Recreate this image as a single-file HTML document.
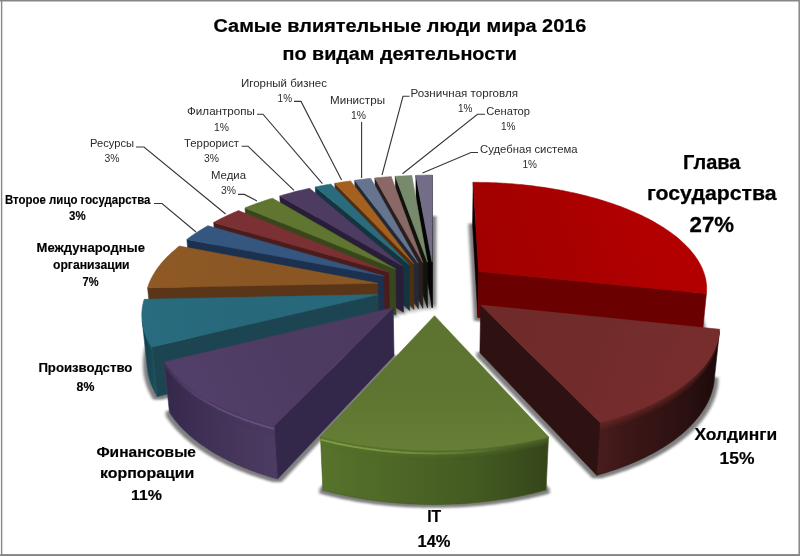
<!DOCTYPE html>
<html><head><meta charset="utf-8"><title>Самые влиятельные люди мира 2016</title>
<style>html,body{margin:0;padding:0;background:#fff}svg{display:block}text{font-family:"Liberation Sans",sans-serif}</style></head><body>
<svg width="800" height="556" viewBox="0 0 800 556">
<rect x="0" y="0" width="800" height="556" fill="#fff"/>
<defs><filter id="blur" x="-10%" y="-10%" width="120%" height="120%"><feMorphology operator="dilate" radius="4 2.4"/><feGaussianBlur stdDeviation="1.7 1.3"/></filter><linearGradient id="t5" gradientUnits="userSpaceOnUse" x1="377.6" y1="283.3" x2="159.2" y2="266.0"><stop offset="0" stop-color="#8A5624"/><stop offset="0.55" stop-color="#8A5624"/><stop offset="1" stop-color="#8E5925"/></linearGradient><linearGradient id="g4wall" gradientUnits="userSpaceOnUse" x1="142.2" y1="0" x2="157.3" y2="0"><stop offset="0" stop-color="#133A45"/><stop offset="1" stop-color="#1E5361"/></linearGradient><linearGradient id="t4" gradientUnits="userSpaceOnUse" x1="377.8" y1="294.6" x2="142.5" y2="323.0"><stop offset="0" stop-color="#27687A"/><stop offset="0.55" stop-color="#27687A"/><stop offset="1" stop-color="#296C7F"/></linearGradient><linearGradient id="h4" gradientUnits="userSpaceOnUse" x1="142.5" y1="0" x2="152.2" y2="0"><stop offset="0.000" stop-color="#3690A8" stop-opacity="0.00"/><stop offset="0.017" stop-color="#3690A8" stop-opacity="0.00"/><stop offset="0.038" stop-color="#3690A8" stop-opacity="0.00"/><stop offset="0.062" stop-color="#3690A8" stop-opacity="0.00"/><stop offset="0.090" stop-color="#3690A8" stop-opacity="0.00"/><stop offset="0.121" stop-color="#3690A8" stop-opacity="0.00"/><stop offset="0.155" stop-color="#3690A8" stop-opacity="0.00"/><stop offset="0.193" stop-color="#3690A8" stop-opacity="0.00"/><stop offset="0.234" stop-color="#3690A8" stop-opacity="0.00"/><stop offset="0.279" stop-color="#3690A8" stop-opacity="0.00"/><stop offset="0.327" stop-color="#3690A8" stop-opacity="0.00"/><stop offset="0.378" stop-color="#3690A8" stop-opacity="0.00"/><stop offset="0.433" stop-color="#3690A8" stop-opacity="0.00"/><stop offset="0.492" stop-color="#3690A8" stop-opacity="0.00"/><stop offset="0.554" stop-color="#3690A8" stop-opacity="0.00"/><stop offset="0.619" stop-color="#3690A8" stop-opacity="0.00"/><stop offset="0.689" stop-color="#3690A8" stop-opacity="0.00"/><stop offset="0.761" stop-color="#3690A8" stop-opacity="0.00"/><stop offset="0.837" stop-color="#3690A8" stop-opacity="0.00"/><stop offset="0.917" stop-color="#3690A8" stop-opacity="0.00"/><stop offset="1.000" stop-color="#3690A8" stop-opacity="0.00"/><stop offset="1.000" stop-color="#3690A8" stop-opacity="0.00"/></linearGradient><linearGradient id="g3wall" gradientUnits="userSpaceOnUse" x1="164.2" y1="0" x2="277.5" y2="0"><stop offset="0" stop-color="#34284A"/><stop offset="0.35" stop-color="#3F3056"/><stop offset="0.7" stop-color="#47375D"/><stop offset="1" stop-color="#4C3B62"/></linearGradient><linearGradient id="t3" gradientUnits="userSpaceOnUse" x1="393.2" y1="307.7" x2="205.1" y2="398.6"><stop offset="0" stop-color="#4C3A61"/><stop offset="0.55" stop-color="#4D3B62"/><stop offset="1" stop-color="#523F69"/></linearGradient><linearGradient id="h3" gradientUnits="userSpaceOnUse" x1="164.5" y1="0" x2="274.3" y2="0"><stop offset="0.000" stop-color="#6A5187" stop-opacity="0.00"/><stop offset="0.034" stop-color="#6A5187" stop-opacity="0.00"/><stop offset="0.073" stop-color="#6A5187" stop-opacity="0.10"/><stop offset="0.118" stop-color="#6A5187" stop-opacity="0.19"/><stop offset="0.167" stop-color="#6A5187" stop-opacity="0.29"/><stop offset="0.222" stop-color="#6A5187" stop-opacity="0.38"/><stop offset="0.282" stop-color="#6A5187" stop-opacity="0.47"/><stop offset="0.347" stop-color="#6A5187" stop-opacity="0.55"/><stop offset="0.416" stop-color="#6A5187" stop-opacity="0.63"/><stop offset="0.490" stop-color="#6A5187" stop-opacity="0.69"/><stop offset="0.569" stop-color="#6A5187" stop-opacity="0.75"/><stop offset="0.652" stop-color="#6A5187" stop-opacity="0.80"/><stop offset="0.740" stop-color="#6A5187" stop-opacity="0.84"/><stop offset="0.831" stop-color="#6A5187" stop-opacity="0.87"/><stop offset="0.926" stop-color="#6A5187" stop-opacity="0.89"/><stop offset="1.000" stop-color="#6A5187" stop-opacity="0.90"/></linearGradient><linearGradient id="t0" gradientUnits="userSpaceOnUse" x1="478.7" y1="271.3" x2="635.5" y2="212.7"><stop offset="0" stop-color="#A10000"/><stop offset="0.55" stop-color="#A80000"/><stop offset="1" stop-color="#B20000"/></linearGradient><linearGradient id="g1wall" gradientUnits="userSpaceOnUse" x1="596.7" y1="0" x2="719.5" y2="0"><stop offset="0" stop-color="#4A1D1D"/><stop offset="0.25" stop-color="#3C1717"/><stop offset="0.75" stop-color="#2A1010"/><stop offset="1" stop-color="#1B0909"/></linearGradient><linearGradient id="t1" gradientUnits="userSpaceOnUse" x1="480.7" y1="305.1" x2="687.5" y2="382.3"><stop offset="0" stop-color="#702A2A"/><stop offset="0.55" stop-color="#722B2B"/><stop offset="1" stop-color="#782D2D"/></linearGradient><linearGradient id="h1" gradientUnits="userSpaceOnUse" x1="600.0" y1="0" x2="719.3" y2="0"><stop offset="0.000" stop-color="#9D3B3B" stop-opacity="0.00"/><stop offset="0.112" stop-color="#9D3B3B" stop-opacity="0.00"/><stop offset="0.219" stop-color="#9D3B3B" stop-opacity="0.00"/><stop offset="0.320" stop-color="#9D3B3B" stop-opacity="0.00"/><stop offset="0.416" stop-color="#9D3B3B" stop-opacity="0.00"/><stop offset="0.504" stop-color="#9D3B3B" stop-opacity="0.00"/><stop offset="0.586" stop-color="#9D3B3B" stop-opacity="0.00"/><stop offset="0.661" stop-color="#9D3B3B" stop-opacity="0.00"/><stop offset="0.728" stop-color="#9D3B3B" stop-opacity="0.00"/><stop offset="0.788" stop-color="#9D3B3B" stop-opacity="0.00"/><stop offset="0.841" stop-color="#9D3B3B" stop-opacity="0.00"/><stop offset="0.886" stop-color="#9D3B3B" stop-opacity="0.00"/><stop offset="0.924" stop-color="#9D3B3B" stop-opacity="0.00"/><stop offset="0.954" stop-color="#9D3B3B" stop-opacity="0.00"/><stop offset="0.977" stop-color="#9D3B3B" stop-opacity="0.00"/><stop offset="0.993" stop-color="#9D3B3B" stop-opacity="0.00"/><stop offset="1.000" stop-color="#9D3B3B" stop-opacity="0.00"/></linearGradient><linearGradient id="g2wall" gradientUnits="userSpaceOnUse" x1="320.5" y1="0" x2="548.5" y2="0"><stop offset="0" stop-color="#57732B"/><stop offset="0.35" stop-color="#4D6626"/><stop offset="0.7" stop-color="#435921"/><stop offset="1" stop-color="#35451A"/></linearGradient><linearGradient id="t2" gradientUnits="userSpaceOnUse" x1="434.5" y1="315.7" x2="434.5" y2="450.7"><stop offset="0" stop-color="#5D7431"/><stop offset="0.55" stop-color="#5E7531"/><stop offset="1" stop-color="#667E35"/></linearGradient><linearGradient id="h2" gradientUnits="userSpaceOnUse" x1="320.6" y1="0" x2="548.4" y2="0"><stop offset="0.000" stop-color="#82A144" stop-opacity="0.90"/><stop offset="0.063" stop-color="#82A144" stop-opacity="0.90"/><stop offset="0.129" stop-color="#82A144" stop-opacity="0.88"/><stop offset="0.197" stop-color="#82A144" stop-opacity="0.84"/><stop offset="0.266" stop-color="#82A144" stop-opacity="0.79"/><stop offset="0.336" stop-color="#82A144" stop-opacity="0.72"/><stop offset="0.407" stop-color="#82A144" stop-opacity="0.64"/><stop offset="0.478" stop-color="#82A144" stop-opacity="0.54"/><stop offset="0.550" stop-color="#82A144" stop-opacity="0.44"/><stop offset="0.622" stop-color="#82A144" stop-opacity="0.33"/><stop offset="0.692" stop-color="#82A144" stop-opacity="0.21"/><stop offset="0.762" stop-color="#82A144" stop-opacity="0.08"/><stop offset="0.831" stop-color="#82A144" stop-opacity="0.00"/><stop offset="0.897" stop-color="#82A144" stop-opacity="0.00"/><stop offset="0.962" stop-color="#82A144" stop-opacity="0.00"/><stop offset="1.000" stop-color="#82A144" stop-opacity="0.00"/></linearGradient></defs>
<g filter="url(#blur)" fill="#000" opacity="0.5" transform="translate(0,1.3)"><polygon points="432.2,307.7 416.2,216.9 418.2,216.9 420.3,216.8 422.3,216.7 424.3,216.7 426.3,216.7 428.4,216.6 430.4,216.6 432.4,216.6"/><polygon points="427.5,307.9 395.9,217.9 397.9,217.8 399.9,217.7 402.0,217.5 404.0,217.4 406.0,217.3 408.0,217.2 410.1,217.1 412.1,217.1"/><polygon points="422.9,308.3 375.8,219.7 377.8,219.5 379.8,219.2 381.8,219.1 383.8,218.9 385.8,218.7 387.8,218.5 389.8,218.4 391.8,218.2"/><polygon points="418.4,308.8 355.9,222.1 357.8,221.8 359.8,221.6 361.8,221.3 363.8,221.0 365.8,220.8 367.7,220.6 369.7,220.3 371.7,220.1"/><polygon points="413.9,309.6 336.3,225.3 338.2,224.9 340.1,224.6 342.1,224.2 344.0,223.9 346.0,223.6 348.0,223.3 349.9,223.0 351.9,222.7"/><polygon points="409.6,310.5 317.1,229.2 319.0,228.7 320.9,228.3 322.8,227.9 324.7,227.5 326.6,227.1 328.5,226.8 330.4,226.4 332.4,226.0"/><polygon points="403.5,312.2 282.2,238.5 284.0,237.9 285.9,237.4 287.8,236.8 289.8,236.2 291.7,235.6 293.6,235.1 295.6,234.5 297.5,234.0 299.5,233.5 301.5,233.0 303.4,232.5 305.4,232.0 307.4,231.5 309.4,231.0 311.4,230.5"/><polygon points="396.0,315.0 248.0,251.1 249.7,250.4 251.4,249.6 253.1,248.9 254.9,248.2 256.7,247.4 258.5,246.7 260.2,246.1 262.1,245.4 263.9,244.7 265.7,244.0 267.5,243.4 269.4,242.7 271.3,242.1 273.1,241.5 275.0,240.9"/><polygon points="389.6,318.4 217.3,266.4 218.8,265.5 220.3,264.6 221.8,263.7 223.4,262.9 224.9,262.0 226.5,261.2 228.1,260.3 229.7,259.5 231.4,258.7 233.0,257.9 234.7,257.1 236.4,256.3 238.0,255.5 239.7,254.7 241.5,254.0"/><polygon points="384.4,322.3 190.9,284.2 192.2,283.2 193.4,282.2 194.7,281.2 196.0,280.2 197.3,279.2 198.7,278.2 200.0,277.2 201.4,276.3 202.8,275.3 204.2,274.4 205.7,273.4 207.1,272.5 208.6,271.6 210.1,270.7 211.6,269.8"/><polygon points="378.6,330.1 152.6,334.8 153.0,333.5 153.4,332.2 153.8,331.0 154.3,329.7 154.8,328.4 155.3,327.2 155.8,325.9 156.4,324.7 156.9,323.4 157.6,322.2 158.2,321.0 158.9,319.8 159.6,318.5 160.3,317.3 161.0,316.1 161.8,314.9 162.6,313.7 163.4,312.5 164.3,311.3 165.2,310.2 166.1,309.0 167.0,307.8 167.9,306.7 168.9,305.5 169.9,304.4 170.9,303.2 172.0,302.1 173.0,301.0 174.1,299.8 175.2,298.7 176.4,297.6 177.5,296.5 178.7,295.4 179.9,294.4 181.1,293.3 182.3,292.2 183.6,291.2"/><polygon points="378.8,341.9 157.3,396.5 156.5,395.1 155.7,393.8 155.0,392.5 154.3,391.1 153.6,389.8 153.0,388.5 152.4,387.1 151.8,385.8 151.2,384.4 150.7,383.1 150.3,381.7 149.8,380.4 149.4,379.0 149.1,377.7 148.7,376.3 148.4,374.9 148.2,373.6 147.9,372.2 147.7,370.9 147.5,369.5 147.4,368.2 147.3,366.8 147.2,365.5 147.1,364.1 147.1,362.8 147.1,361.4 147.2,360.1 147.3,358.7 147.4,357.4 147.5,356.1 147.7,354.7 147.9,353.4 148.1,352.1 148.4,350.7 148.7,349.4 149.0,348.1 149.3,346.8"/><polygon points="394.0,355.6 277.5,479.0 274.8,478.2 272.1,477.4 269.5,476.7 266.9,475.8 264.3,475.0 261.8,474.2 259.3,473.3 256.8,472.5 254.3,471.6 251.8,470.7 249.4,469.8 247.0,468.8 244.6,467.9 242.3,466.9 240.0,466.0 237.7,465.0 235.4,464.0 233.2,462.9 231.0,461.9 228.8,460.9 226.7,459.8 224.6,458.7 222.5,457.7 220.4,456.6 218.4,455.4 216.4,454.3 214.5,453.2 212.5,452.0 210.6,450.9 208.8,449.7 207.0,448.5 205.2,447.3 203.4,446.1 201.7,444.9 200.0,443.7 198.3,442.5 196.7,441.2 195.1,440.0 193.5,438.7 192.0,437.5 190.5,436.2 189.0,434.9 187.6,433.6 186.2,432.3 184.8,431.0 183.5,429.7 182.2,428.4 180.9,427.1 179.7,425.7 178.5,424.4 177.4,423.1 176.3,421.7 175.2,420.4 174.1,419.0 173.1,417.6 172.1,416.3 171.2,414.9 170.3,413.5 169.4,412.1"/><polygon points="477.9,317.5 472.6,224.2 474.8,224.2 477.1,224.2 479.3,224.3 481.6,224.3 483.8,224.4 486.0,224.4 488.3,224.5 490.5,224.6 492.8,224.7 495.0,224.8 497.3,224.9 499.5,225.0 501.7,225.1 504.0,225.3 506.2,225.4 508.4,225.6 510.7,225.8 512.9,226.0 515.1,226.2 517.3,226.4 519.5,226.6 521.8,226.9 524.0,227.1 526.2,227.4 528.4,227.6 530.6,227.9 532.8,228.2 534.9,228.5 537.1,228.8 539.3,229.1 541.5,229.5 543.7,229.8 545.8,230.2 548.0,230.5 550.1,230.9 552.3,231.3 554.4,231.7 556.5,232.1 558.7,232.5 560.8,233.0 562.9,233.4 565.0,233.8 567.1,234.3 569.2,234.8 571.3,235.3 573.3,235.8 575.4,236.3 577.4,236.8 579.5,237.3 581.5,237.8 583.6,238.4 585.6,238.9 587.6,239.5 589.6,240.1 591.6,240.7 593.6,241.3 595.5,241.9 597.5,242.5 599.4,243.1 601.4,243.7 603.3,244.4 605.2,245.1 607.1,245.7 609.0,246.4 610.9,247.1 612.7,247.8 614.6,248.5 616.4,249.2 618.2,249.9 620.1,250.7 621.9,251.4 623.6,252.2 625.4,252.9 627.2,253.7 628.9,254.5 630.6,255.3 632.4,256.1 634.1,256.9 635.7,257.7 637.4,258.6 639.1,259.4 640.7,260.3 642.3,261.1 643.9,262.0 645.5,262.9 647.1,263.8 648.6,264.7 650.2,265.6 651.7,266.5 653.2,267.4 654.7,268.3 656.1,269.3 657.6,270.2 659.0,271.2 660.4,272.2 661.8,273.1 663.1,274.1 664.5,275.1 665.8,276.1 667.1,277.1 668.4,278.1 669.7,279.2 670.9,280.2 672.2,281.2 673.4,282.3 674.5,283.3 675.7,284.4 676.8,285.5 678.0,286.5 679.1,287.6 680.1,288.7 681.2,289.8 682.2,290.9 683.2,292.0 684.2,293.1 685.1,294.3 686.1,295.4 687.0,296.5 687.9,297.7 688.7,298.8 689.5,300.0 690.3,301.1 691.1,302.3 691.9,303.5 692.6,304.6 693.3,305.8 694.0,307.0 694.6,308.2 695.3,309.4 695.9,310.6 696.4,311.8 697.0,313.0 697.5,314.3 698.0,315.5 698.4,316.7 698.9,317.9 699.3,319.2 699.7,320.4 700.0,321.7 700.3,322.9 700.6,324.1 700.9,325.4 701.1,326.7 701.3,327.9 701.5,329.2 701.6,330.4 701.7,331.7 701.8,333.0 701.9,334.2 701.9,335.5 701.9,336.8 701.8,338.1 701.8,339.3 701.6,340.6"/><polygon points="479.9,352.8 714.4,378.2 714.3,379.6 714.2,381.0 714.0,382.4 713.8,383.8 713.5,385.2 713.2,386.6 712.9,388.0 712.6,389.4 712.2,390.8 711.8,392.2 711.3,393.6 710.8,395.0 710.3,396.4 709.7,397.8 709.2,399.2 708.5,400.5 707.9,401.9 707.2,403.3 706.5,404.7 705.7,406.1 704.9,407.5 704.1,408.8 703.2,410.2 702.3,411.6 701.4,412.9 700.4,414.3 699.4,415.7 698.4,417.0 697.3,418.4 696.2,419.7 695.0,421.0 693.9,422.4 692.7,423.7 691.4,425.0 690.1,426.3 688.8,427.6 687.5,428.9 686.1,430.2 684.7,431.5 683.2,432.8 681.7,434.0 680.2,435.3 678.7,436.5 677.1,437.8 675.5,439.0 673.8,440.2 672.1,441.5 670.4,442.7 668.6,443.8 666.9,445.0 665.0,446.2 663.2,447.4 661.3,448.5 659.4,449.7 657.5,450.8 655.5,451.9 653.5,453.0 651.4,454.1 649.4,455.2 647.3,456.2 645.1,457.3 643.0,458.3 640.8,459.4 638.6,460.4 636.3,461.4 634.0,462.4 631.7,463.3 629.4,464.3 627.0,465.2 624.7,466.1 622.2,467.1 619.8,468.0 617.3,468.8 614.8,469.7 612.3,470.5 609.8,471.4 607.2,472.2 604.6,473.0 602.0,473.8 599.4,474.5 596.7,475.3"/><polygon points="434.5,363.9 546.1,490.1 543.3,490.8 540.5,491.6 537.6,492.3 534.8,493.0 531.9,493.7 529.0,494.3 526.1,495.0 523.2,495.6 520.2,496.2 517.3,496.8 514.3,497.3 511.3,497.9 508.3,498.4 505.2,498.9 502.2,499.4 499.2,499.8 496.1,500.3 493.0,500.7 489.9,501.1 486.8,501.5 483.7,501.8 480.6,502.1 477.4,502.5 474.3,502.7 471.1,503.0 468.0,503.3 464.8,503.5 461.6,503.7 458.4,503.9 455.3,504.0 452.1,504.1 448.9,504.3 445.7,504.3 442.5,504.4 439.3,504.5 436.1,504.5 432.9,504.5 429.7,504.5 426.5,504.4 423.3,504.3 420.1,504.3 416.9,504.1 413.7,504.0 410.6,503.9 407.4,503.7 404.2,503.5 401.0,503.3 397.9,503.0 394.7,502.7 391.6,502.5 388.4,502.1 385.3,501.8 382.2,501.5 379.1,501.1 376.0,500.7 372.9,500.3 369.8,499.8 366.8,499.4 363.8,498.9 360.7,498.4 357.7,497.9 354.7,497.3 351.7,496.8 348.8,496.2 345.8,495.6 342.9,495.0 340.0,494.3 337.1,493.7 334.2,493.0 331.4,492.3 328.5,491.6 325.7,490.8 322.9,490.1"/></g>
<polygon points="432.1,261.9 415.9,175.4 416.2,216.9 432.2,307.7" fill="#050505" stroke="#050505" stroke-width="0.6" stroke-linejoin="round"/>
<polygon points="432.1,261.9 432.4,175.1 432.4,216.6 432.2,307.7" fill="#050505" stroke="#050505" stroke-width="0.6" stroke-linejoin="round"/>
<polygon points="432.1,261.9 415.9,175.4 418.0,175.3 420.0,175.3 422.1,175.2 424.2,175.2 426.2,175.1 428.3,175.1 430.4,175.1 432.4,175.1" fill="#746D88" stroke="#746D88" stroke-width="0.6" stroke-linejoin="round"/>
<polygon points="427.4,262.1 395.3,176.3 395.9,217.9 427.5,307.9" fill="#10140C" stroke="#10140C" stroke-width="0.6" stroke-linejoin="round"/>
<polygon points="427.4,262.1 395.3,176.3 397.4,176.2 399.4,176.1 401.5,176.0 403.5,175.9 405.6,175.8 407.6,175.7 409.7,175.6 411.8,175.5" fill="#788A6C" stroke="#788A6C" stroke-width="0.6" stroke-linejoin="round"/>
<polygon points="422.7,262.4 374.9,178.0 375.8,219.7 422.9,308.3" fill="#2A1F1F" stroke="#2A1F1F" stroke-width="0.6" stroke-linejoin="round"/>
<polygon points="422.7,262.4 374.9,178.0 376.9,177.8 378.9,177.6 381.0,177.4 383.0,177.2 385.0,177.1 387.1,176.9 389.1,176.8 391.2,176.6" fill="#8A6866" stroke="#8A6866" stroke-width="0.6" stroke-linejoin="round"/>
<polygon points="418.1,263.0 354.7,180.3 355.9,222.1 418.4,308.8" fill="#232A36" stroke="#232A36" stroke-width="0.6" stroke-linejoin="round"/>
<polygon points="418.1,263.0 354.7,180.3 356.7,180.0 358.7,179.8 360.7,179.5 362.7,179.3 364.7,179.1 366.7,178.8 368.8,178.6 370.8,178.4" fill="#66758F" stroke="#66758F" stroke-width="0.6" stroke-linejoin="round"/>
<polygon points="413.6,263.7 334.8,183.3 336.3,225.3 413.9,309.6" fill="#4f2f14" stroke="#4f2f14" stroke-width="0.6" stroke-linejoin="round"/>
<polygon points="413.6,263.7 334.8,183.3 336.7,183.0 338.7,182.7 340.7,182.3 342.7,182.0 344.6,181.7 346.6,181.4 348.6,181.2 350.6,180.9" fill="#A5601F" stroke="#A5601F" stroke-width="0.6" stroke-linejoin="round"/>
<polygon points="409.2,264.6 315.3,187.0 317.1,229.2 409.6,310.5" fill="#14353F" stroke="#14353F" stroke-width="0.6" stroke-linejoin="round"/>
<polygon points="409.2,264.6 315.3,187.0 317.2,186.6 319.1,186.2 321.1,185.8 323.0,185.5 324.9,185.1 326.9,184.7 328.9,184.4 330.8,184.0" fill="#2A6C7E" stroke="#2A6C7E" stroke-width="0.6" stroke-linejoin="round"/>
<polygon points="402.9,266.2 279.8,196.0 282.2,238.5 403.5,312.2" fill="#281E38" stroke="#281E38" stroke-width="0.6" stroke-linejoin="round"/>
<polygon points="402.9,266.2 279.8,196.0 281.7,195.4 283.6,194.8 285.6,194.3 287.5,193.7 289.5,193.2 291.4,192.7 293.4,192.1 295.4,191.6 297.4,191.1 299.4,190.6 301.4,190.2 303.4,189.7 305.5,189.2 307.5,188.8 309.5,188.3" fill="#4D3B62" stroke="#4D3B62" stroke-width="0.6" stroke-linejoin="round"/>
<polygon points="395.4,268.9 245.0,207.9 248.0,251.1 396.0,315.0" fill="#38461C" stroke="#38461C" stroke-width="0.6" stroke-linejoin="round"/>
<polygon points="395.4,268.9 245.0,207.9 246.7,207.2 248.5,206.5 250.3,205.8 252.1,205.1 253.9,204.4 255.7,203.8 257.5,203.1 259.3,202.5 261.2,201.8 263.1,201.2 264.9,200.6 266.8,199.9 268.7,199.3 270.6,198.7 272.5,198.2" fill="#5F7530" stroke="#5F7530" stroke-width="0.6" stroke-linejoin="round"/>
<polygon points="388.8,272.2 213.7,222.5 217.3,266.4 389.6,318.4" fill="#4A1C1D" stroke="#4A1C1D" stroke-width="0.6" stroke-linejoin="round"/>
<polygon points="388.8,272.2 213.7,222.5 215.3,221.6 216.8,220.8 218.4,219.9 220.0,219.1 221.6,218.3 223.2,217.5 224.8,216.7 226.4,215.9 228.1,215.1 229.8,214.4 231.5,213.6 233.2,212.8 234.9,212.1 236.6,211.4 238.4,210.6" fill="#7B3133" stroke="#7B3133" stroke-width="0.6" stroke-linejoin="round"/>
<polygon points="383.5,275.9 186.9,239.5 190.9,284.2 384.4,322.3" fill="#1C3150" stroke="#1C3150" stroke-width="0.6" stroke-linejoin="round"/>
<polygon points="383.5,275.9 186.9,239.5 188.1,238.5 189.4,237.5 190.7,236.6 192.1,235.6 193.4,234.7 194.8,233.7 196.2,232.8 197.6,231.9 199.0,231.0 200.5,230.1 201.9,229.2 203.4,228.3 204.9,227.4 206.4,226.6 207.9,225.7" fill="#34567F" stroke="#34567F" stroke-width="0.6" stroke-linejoin="round"/>
<polygon points="377.6,283.3 147.6,287.8 152.6,334.8 378.6,330.1" fill="#5A3517" stroke="#5A3517" stroke-width="0.6" stroke-linejoin="round"/>
<polygon points="377.6,283.3 147.6,287.8 148.0,286.6 148.4,285.3 148.8,284.1 149.3,282.9 149.8,281.7 150.3,280.5 150.9,279.3 151.5,278.1 152.1,277.0 152.7,275.8 153.4,274.6 154.1,273.4 154.8,272.3 155.5,271.1 156.3,270.0 157.1,268.8 157.9,267.7 158.7,266.5 159.6,265.4 160.5,264.3 161.4,263.1 162.4,262.0 163.4,260.9 164.4,259.8 165.4,258.7 166.4,257.6 167.5,256.6 168.6,255.5 169.7,254.4 170.8,253.3 172.0,252.3 173.2,251.2 174.4,250.2 175.6,249.2 176.8,248.1 178.1,247.1 179.4,246.1" fill="url(#t5)" stroke="#8A5624" stroke-width="0.6" stroke-linejoin="round"/>
<polygon points="377.8,294.6 151.9,346.9 157.3,396.5 378.8,341.9" fill="#1C4551" stroke="#1C4551" stroke-width="0.6" stroke-linejoin="round"/>
<polygon points="151.9,346.9 151.1,345.6 150.3,344.3 149.6,343.0 148.9,341.8 148.2,340.5 147.6,339.2 147.0,337.9 146.4,336.6 145.9,335.3 145.4,334.0 144.9,332.7 144.5,331.4 144.1,330.1 143.7,328.8 143.4,327.5 143.1,326.2 142.8,324.9 142.6,323.6 142.4,322.3 142.2,321.0 147.5,369.5 147.7,370.9 147.9,372.2 148.2,373.6 148.4,374.9 148.7,376.3 149.1,377.6 149.4,379.0 149.8,380.3 150.3,381.7 150.7,383.1 151.2,384.4 151.8,385.8 152.4,387.1 153.0,388.4 153.6,389.8 154.3,391.1 155.0,392.5 155.7,393.8 156.5,395.1 157.3,396.5" fill="url(#g4wall)" stroke="#1E5361" stroke-width="0.6" stroke-linejoin="round"/>
<polygon points="377.8,294.6 151.9,346.9 151.1,345.6 150.3,344.3 149.6,343.0 148.9,341.8 148.2,340.5 147.6,339.2 147.0,337.9 146.4,336.6 145.9,335.3 145.4,334.0 144.9,332.7 144.5,331.4 144.1,330.1 143.7,328.8 143.4,327.5 143.1,326.2 142.8,324.9 142.6,323.6 142.4,322.3 142.2,321.0 142.0,319.7 141.9,318.5 141.9,317.2 141.8,315.9 141.8,314.6 141.8,313.3 141.9,312.0 142.0,310.7 142.1,309.4 142.3,308.1 142.4,306.9 142.7,305.6 142.9,304.3 143.2,303.1 143.5,301.8 143.8,300.5 144.2,299.3" fill="url(#t4)" stroke="#27687A" stroke-width="0.6" stroke-linejoin="round"/>
<polygon points="151.9,346.9 151.1,345.6 150.3,344.3 149.6,343.0 148.9,341.8 148.2,340.5 147.6,339.2 147.0,337.9 146.4,336.6 145.9,335.3 145.4,334.0 144.9,332.7 144.5,331.4 144.1,330.1 143.7,328.8 143.4,327.5 143.1,326.2 142.8,324.9 142.6,323.6 142.4,322.3 142.2,321.0 142.3,321.9 142.5,323.2 142.7,324.5 142.9,325.8 143.2,327.1 143.5,328.4 143.8,329.7 144.2,331.0 144.6,332.3 145.0,333.6 145.5,334.9 146.0,336.2 146.5,337.5 147.1,338.8 147.7,340.1 148.3,341.4 149.0,342.7 149.7,343.9 150.4,345.2 151.2,346.5 152.0,347.8" fill="#27687A" opacity="0.80"/>
<polygon points="152.0,347.8 151.2,346.5 150.4,345.2 149.7,343.9 149.0,342.7 148.3,341.4 147.7,340.1 147.1,338.8 146.5,337.5 146.0,336.2 145.5,334.9 145.0,333.6 144.6,332.3 144.2,331.0 143.8,329.7 143.5,328.4 143.2,327.1 142.9,325.8 142.7,324.5 142.5,323.2 142.3,321.9 142.4,322.8 142.5,324.1 142.8,325.4 143.0,326.7 143.3,328.0 143.6,329.3 143.9,330.6 144.3,331.9 144.7,333.2 145.1,334.5 145.6,335.8 146.1,337.1 146.6,338.4 147.2,339.7 147.8,341.0 148.4,342.3 149.1,343.6 149.8,344.9 150.5,346.1 151.3,347.4 152.1,348.7" fill="#27687A" opacity="0.69"/>
<polygon points="152.1,348.7 151.3,347.4 150.5,346.1 149.8,344.9 149.1,343.6 148.4,342.3 147.8,341.0 147.2,339.7 146.6,338.4 146.1,337.1 145.6,335.8 145.1,334.5 144.7,333.2 144.3,331.9 143.9,330.6 143.6,329.3 143.3,328.0 143.0,326.7 142.8,325.4 142.5,324.1 142.4,322.8 142.5,323.7 142.6,325.0 142.8,326.3 143.1,327.6 143.4,328.9 143.7,330.2 144.0,331.5 144.4,332.8 144.8,334.1 145.2,335.4 145.7,336.7 146.2,338.0 146.7,339.3 147.3,340.6 147.9,341.9 148.5,343.2 149.2,344.5 149.9,345.8 150.6,347.0 151.4,348.3 152.2,349.6" fill="#27687A" opacity="0.58"/>
<polygon points="152.2,349.6 151.4,348.3 150.6,347.0 149.9,345.8 149.2,344.5 148.5,343.2 147.9,341.9 147.3,340.6 146.7,339.3 146.2,338.0 145.7,336.7 145.2,335.4 144.8,334.1 144.4,332.8 144.0,331.5 143.7,330.2 143.4,328.9 143.1,327.6 142.8,326.3 142.6,325.0 142.5,323.7 142.6,324.6 142.7,325.9 142.9,327.2 143.2,328.5 143.5,329.8 143.8,331.1 144.1,332.4 144.5,333.7 144.9,335.0 145.3,336.3 145.8,337.6 146.3,338.9 146.8,340.2 147.4,341.5 148.0,342.8 148.6,344.1 149.3,345.4 150.0,346.7 150.7,347.9 151.5,349.2 152.3,350.5" fill="#27687A" opacity="0.49"/>
<polygon points="152.3,350.5 151.5,349.2 150.7,347.9 150.0,346.7 149.3,345.4 148.6,344.1 148.0,342.8 147.4,341.5 146.8,340.2 146.3,338.9 145.8,337.6 145.3,336.3 144.9,335.0 144.5,333.7 144.1,332.4 143.8,331.1 143.5,329.8 143.2,328.5 142.9,327.2 142.7,325.9 142.6,324.6 142.7,325.5 142.8,326.8 143.0,328.1 143.3,329.4 143.5,330.7 143.9,332.0 144.2,333.3 144.6,334.6 145.0,335.9 145.4,337.2 145.9,338.5 146.4,339.8 146.9,341.1 147.5,342.4 148.1,343.7 148.7,345.0 149.4,346.3 150.1,347.6 150.8,348.9 151.6,350.1 152.4,351.4" fill="#27687A" opacity="0.39"/>
<polygon points="152.4,351.4 151.6,350.1 150.8,348.9 150.1,347.6 149.4,346.3 148.7,345.0 148.1,343.7 147.5,342.4 146.9,341.1 146.4,339.8 145.9,338.5 145.4,337.2 145.0,335.9 144.6,334.6 144.2,333.3 143.9,332.0 143.5,330.7 143.3,329.4 143.0,328.1 142.8,326.8 142.7,325.5 142.8,326.4 142.9,327.7 143.1,329.0 143.4,330.3 143.6,331.6 143.9,332.9 144.3,334.2 144.7,335.5 145.1,336.8 145.5,338.1 146.0,339.4 146.5,340.7 147.0,342.0 147.6,343.3 148.2,344.6 148.8,345.9 149.5,347.2 150.2,348.5 150.9,349.8 151.7,351.0 152.5,352.3" fill="#27687A" opacity="0.30"/>
<polygon points="152.5,352.3 151.7,351.0 150.9,349.8 150.2,348.5 149.5,347.2 148.8,345.9 148.2,344.6 147.6,343.3 147.0,342.0 146.5,340.7 146.0,339.4 145.5,338.1 145.1,336.8 144.7,335.5 144.3,334.2 143.9,332.9 143.6,331.6 143.4,330.3 143.1,329.0 142.9,327.7 142.8,326.4 142.9,327.2 143.0,328.5 143.2,329.8 143.5,331.2 143.7,332.5 144.0,333.8 144.4,335.1 144.7,336.4 145.2,337.7 145.6,339.0 146.1,340.3 146.6,341.6 147.1,342.9 147.7,344.2 148.3,345.5 148.9,346.8 149.6,348.1 150.3,349.4 151.0,350.7 151.8,351.9 152.6,353.2" fill="#27687A" opacity="0.22"/>
<polygon points="152.6,353.2 151.8,351.9 151.0,350.7 150.3,349.4 149.6,348.1 148.9,346.8 148.3,345.5 147.7,344.2 147.1,342.9 146.6,341.6 146.1,340.3 145.6,339.0 145.2,337.7 144.7,336.4 144.4,335.1 144.0,333.8 143.7,332.5 143.5,331.2 143.2,329.8 143.0,328.5 142.9,327.2 143.0,328.1 143.1,329.4 143.3,330.7 143.6,332.0 143.8,333.4 144.1,334.7 144.5,336.0 144.8,337.3 145.2,338.6 145.7,339.9 146.2,341.2 146.7,342.5 147.2,343.8 147.8,345.1 148.4,346.4 149.0,347.7 149.7,349.0 150.4,350.3 151.1,351.6 151.9,352.9 152.7,354.1" fill="#27687A" opacity="0.14"/>
<polygon points="152.7,354.1 151.9,352.9 151.1,351.6 150.4,350.3 149.7,349.0 149.0,347.7 148.4,346.4 147.8,345.1 147.2,343.8 146.7,342.5 146.2,341.2 145.7,339.9 145.2,338.6 144.8,337.3 144.5,336.0 144.1,334.7 143.8,333.4 143.6,332.0 143.3,330.7 143.1,329.4 143.0,328.1 143.1,329.0 143.2,330.3 143.4,331.6 143.7,332.9 143.9,334.2 144.2,335.5 144.6,336.9 144.9,338.2 145.3,339.5 145.8,340.8 146.3,342.1 146.8,343.4 147.3,344.7 147.9,346.0 148.5,347.3 149.1,348.6 149.8,349.9 150.5,351.2 151.2,352.5 152.0,353.8 152.8,355.0" fill="#27687A" opacity="0.07"/>
<polygon points="152.8,355.0 152.0,353.8 151.2,352.5 150.5,351.2 149.8,349.9 149.1,348.6 148.5,347.3 147.9,346.0 147.3,344.7 146.8,343.4 146.3,342.1 145.8,340.8 145.3,339.5 144.9,338.2 144.6,336.9 144.2,335.5 143.9,334.2 143.7,332.9 143.4,331.6 143.2,330.3 143.1,329.0 143.2,329.9 143.3,331.2 143.5,332.5 143.8,333.8 144.0,335.1 144.3,336.4 144.7,337.7 145.0,339.1 145.4,340.4 145.9,341.7 146.4,343.0 146.9,344.3 147.4,345.6 148.0,346.9 148.6,348.2 149.2,349.5 149.9,350.8 150.6,352.1 151.3,353.4 152.1,354.7 152.9,355.9" fill="#27687A" opacity="0.02"/>
<polyline points="152.2,349.4 151.4,348.1 150.6,346.8 149.9,345.6 149.2,344.3 148.5,343.0 147.9,341.7 147.3,340.4 146.7,339.1 146.1,337.8 145.6,336.5 145.2,335.2 144.7,333.9 144.3,332.6 144.0,331.3 143.6,330.0 143.3,328.7 143.1,327.4 142.8,326.1 142.6,324.8 142.5,323.5" fill="none" stroke="url(#h4)" stroke-width="1.9"/>
<polygon points="393.2,307.7 274.1,426.1 277.5,479.0 394.0,355.6" fill="#33274A" stroke="#33274A" stroke-width="0.6" stroke-linejoin="round"/>
<polygon points="274.1,426.1 271.4,425.4 268.7,424.7 266.0,423.9 263.4,423.1 260.7,422.4 258.1,421.6 255.6,420.7 253.0,419.9 250.5,419.0 248.0,418.2 245.5,417.3 243.1,416.4 240.7,415.5 238.3,414.6 235.9,413.6 233.6,412.7 231.3,411.7 229.0,410.7 226.8,409.7 224.5,408.7 222.4,407.7 220.2,406.7 218.1,405.6 216.0,404.6 214.0,403.5 211.9,402.4 209.9,401.3 208.0,400.2 206.0,399.1 204.2,398.0 202.3,396.9 200.5,395.7 198.7,394.6 196.9,393.4 195.2,392.2 193.5,391.1 191.8,389.9 190.2,388.7 188.6,387.5 187.1,386.2 185.5,385.0 184.1,383.8 182.6,382.5 181.2,381.3 179.8,380.0 178.5,378.8 177.2,377.5 175.9,376.2 174.6,375.0 173.4,373.7 172.3,372.4 171.1,371.1 170.0,369.8 169.0,368.5 168.0,367.2 167.0,365.9 166.0,364.6 165.1,363.2 164.2,361.9 169.4,412.1 170.3,413.5 171.2,414.9 172.1,416.3 173.1,417.6 174.1,419.0 175.2,420.4 176.3,421.7 177.4,423.1 178.5,424.4 179.7,425.7 180.9,427.1 182.2,428.4 183.5,429.7 184.8,431.0 186.2,432.3 187.6,433.6 189.0,434.9 190.5,436.2 192.0,437.5 193.5,438.7 195.1,440.0 196.7,441.2 198.3,442.5 200.0,443.7 201.7,444.9 203.4,446.1 205.2,447.3 207.0,448.5 208.8,449.7 210.6,450.9 212.5,452.0 214.5,453.2 216.4,454.3 218.4,455.4 220.4,456.6 222.5,457.7 224.6,458.7 226.7,459.8 228.8,460.9 231.0,461.9 233.2,462.9 235.4,464.0 237.7,465.0 240.0,466.0 242.3,466.9 244.6,467.9 247.0,468.8 249.4,469.8 251.8,470.7 254.3,471.6 256.8,472.5 259.3,473.3 261.8,474.2 264.3,475.0 266.9,475.8 269.5,476.7 272.1,477.4 274.8,478.2 277.5,479.0" fill="url(#g3wall)" stroke="#47375D" stroke-width="0.6" stroke-linejoin="round"/>
<polygon points="393.2,307.7 274.1,426.1 271.4,425.4 268.7,424.7 266.0,423.9 263.4,423.1 260.7,422.4 258.1,421.6 255.6,420.7 253.0,419.9 250.5,419.0 248.0,418.2 245.5,417.3 243.1,416.4 240.7,415.5 238.3,414.6 235.9,413.6 233.6,412.7 231.3,411.7 229.0,410.7 226.8,409.7 224.5,408.7 222.4,407.7 220.2,406.7 218.1,405.6 216.0,404.6 214.0,403.5 211.9,402.4 209.9,401.3 208.0,400.2 206.0,399.1 204.2,398.0 202.3,396.9 200.5,395.7 198.7,394.6 196.9,393.4 195.2,392.2 193.5,391.1 191.8,389.9 190.2,388.7 188.6,387.5 187.1,386.2 185.5,385.0 184.1,383.8 182.6,382.5 181.2,381.3 179.8,380.0 178.5,378.8 177.2,377.5 175.9,376.2 174.6,375.0 173.4,373.7 172.3,372.4 171.1,371.1 170.0,369.8 169.0,368.5 168.0,367.2 167.0,365.9 166.0,364.6 165.1,363.2 164.2,361.9" fill="url(#t3)" stroke="#4D3B62" stroke-width="0.6" stroke-linejoin="round"/>
<polygon points="274.1,426.1 271.4,425.4 268.7,424.7 266.0,423.9 263.4,423.1 260.7,422.4 258.1,421.6 255.6,420.7 253.0,419.9 250.5,419.0 248.0,418.2 245.5,417.3 243.1,416.4 240.7,415.5 238.3,414.6 235.9,413.6 233.6,412.7 231.3,411.7 229.0,410.7 226.8,409.7 224.5,408.7 222.4,407.7 220.2,406.7 218.1,405.6 216.0,404.6 214.0,403.5 211.9,402.4 209.9,401.3 208.0,400.2 206.0,399.1 204.2,398.0 202.3,396.9 200.5,395.7 198.7,394.6 196.9,393.4 195.2,392.2 193.5,391.1 191.8,389.9 190.2,388.7 188.6,387.5 187.1,386.2 185.5,385.0 184.1,383.8 182.6,382.5 181.2,381.3 179.8,380.0 178.5,378.8 177.2,377.5 175.9,376.2 174.6,375.0 173.4,373.7 172.3,372.4 171.1,371.1 170.0,369.8 169.0,368.5 168.0,367.2 167.0,365.9 166.0,364.6 165.1,363.2 164.2,361.9 164.3,362.8 165.2,364.2 166.1,365.5 167.1,366.8 168.0,368.1 169.1,369.4 170.1,370.7 171.2,372.0 172.4,373.3 173.5,374.6 174.7,375.9 176.0,377.2 177.3,378.5 178.6,379.7 179.9,381.0 181.3,382.2 182.7,383.5 184.2,384.7 185.6,386.0 187.2,387.2 188.7,388.4 190.3,389.6 191.9,390.8 193.6,392.0 195.3,393.2 197.0,394.4 198.8,395.5 200.6,396.7 202.4,397.8 204.2,399.0 206.1,400.1 208.1,401.2 210.0,402.3 212.0,403.4 214.0,404.5 216.1,405.5 218.2,406.6 220.3,407.6 222.4,408.7 224.6,409.7 226.8,410.7 229.1,411.7 231.3,412.7 233.7,413.6 236.0,414.6 238.3,415.5 240.7,416.5 243.1,417.4 245.6,418.3 248.1,419.1 250.6,420.0 253.1,420.9 255.6,421.7 258.2,422.5 260.8,423.3 263.4,424.1 266.1,424.9 268.8,425.6 271.5,426.4 274.2,427.1" fill="#4D3B62" opacity="0.80"/>
<polygon points="274.2,427.1 271.5,426.4 268.8,425.6 266.1,424.9 263.4,424.1 260.8,423.3 258.2,422.5 255.6,421.7 253.1,420.9 250.6,420.0 248.1,419.1 245.6,418.3 243.1,417.4 240.7,416.5 238.3,415.5 236.0,414.6 233.7,413.6 231.3,412.7 229.1,411.7 226.8,410.7 224.6,409.7 222.4,408.7 220.3,407.6 218.2,406.6 216.1,405.5 214.0,404.5 212.0,403.4 210.0,402.3 208.1,401.2 206.1,400.1 204.2,399.0 202.4,397.8 200.6,396.7 198.8,395.5 197.0,394.4 195.3,393.2 193.6,392.0 191.9,390.8 190.3,389.6 188.7,388.4 187.2,387.2 185.6,386.0 184.2,384.7 182.7,383.5 181.3,382.2 179.9,381.0 178.6,379.7 177.3,378.5 176.0,377.2 174.7,375.9 173.5,374.6 172.4,373.3 171.2,372.0 170.1,370.7 169.1,369.4 168.0,368.1 167.1,366.8 166.1,365.5 165.2,364.2 164.3,362.8 164.4,363.8 165.3,365.1 166.2,366.4 167.2,367.7 168.1,369.0 169.2,370.3 170.2,371.7 171.3,373.0 172.5,374.3 173.6,375.5 174.8,376.8 176.1,378.1 177.3,379.4 178.7,380.7 180.0,381.9 181.4,383.2 182.8,384.4 184.2,385.7 185.7,386.9 187.2,388.1 188.8,389.3 190.4,390.5 192.0,391.7 193.7,392.9 195.4,394.1 197.1,395.3 198.8,396.5 200.6,397.6 202.5,398.8 204.3,399.9 206.2,401.0 208.1,402.1 210.1,403.2 212.1,404.3 214.1,405.4 216.2,406.5 218.3,407.5 220.4,408.6 222.5,409.6 224.7,410.6 226.9,411.7 229.2,412.6 231.4,413.6 233.7,414.6 236.1,415.6 238.4,416.5 240.8,417.4 243.2,418.3 245.7,419.2 248.1,420.1 250.6,421.0 253.2,421.8 255.7,422.7 258.3,423.5 260.9,424.3 263.5,425.1 266.2,425.9 268.8,426.6 271.5,427.3 274.3,428.1" fill="#4D3B62" opacity="0.69"/>
<polygon points="274.3,428.1 271.5,427.3 268.8,426.6 266.2,425.9 263.5,425.1 260.9,424.3 258.3,423.5 255.7,422.7 253.2,421.8 250.6,421.0 248.1,420.1 245.7,419.2 243.2,418.3 240.8,417.4 238.4,416.5 236.1,415.6 233.7,414.6 231.4,413.6 229.2,412.6 226.9,411.7 224.7,410.6 222.5,409.6 220.4,408.6 218.3,407.5 216.2,406.5 214.1,405.4 212.1,404.3 210.1,403.2 208.1,402.1 206.2,401.0 204.3,399.9 202.5,398.8 200.6,397.6 198.8,396.5 197.1,395.3 195.4,394.1 193.7,392.9 192.0,391.7 190.4,390.5 188.8,389.3 187.2,388.1 185.7,386.9 184.2,385.7 182.8,384.4 181.4,383.2 180.0,381.9 178.7,380.7 177.3,379.4 176.1,378.1 174.8,376.8 173.6,375.5 172.5,374.3 171.3,373.0 170.2,371.7 169.2,370.3 168.1,369.0 167.2,367.7 166.2,366.4 165.3,365.1 164.4,363.8 164.5,364.7 165.4,366.0 166.3,367.3 167.2,368.6 168.2,370.0 169.3,371.3 170.3,372.6 171.4,373.9 172.6,375.2 173.7,376.5 174.9,377.8 176.2,379.0 177.4,380.3 178.7,381.6 180.1,382.8 181.5,384.1 182.9,385.4 184.3,386.6 185.8,387.8 187.3,389.1 188.9,390.3 190.5,391.5 192.1,392.7 193.8,393.9 195.4,395.1 197.2,396.2 198.9,397.4 200.7,398.6 202.6,399.7 204.4,400.8 206.3,402.0 208.2,403.1 210.2,404.2 212.2,405.3 214.2,406.4 216.3,407.4 218.3,408.5 220.5,409.5 222.6,410.6 224.8,411.6 227.0,412.6 229.2,413.6 231.5,414.6 233.8,415.6 236.1,416.5 238.5,417.5 240.9,418.4 243.3,419.3 245.7,420.2 248.2,421.1 250.7,421.9 253.2,422.8 255.8,423.6 258.3,424.5 260.9,425.3 263.6,426.0 266.2,426.8 268.9,427.6 271.6,428.3 274.3,429.0" fill="#4D3B62" opacity="0.58"/>
<polygon points="274.3,429.0 271.6,428.3 268.9,427.6 266.2,426.8 263.6,426.0 260.9,425.3 258.3,424.5 255.8,423.6 253.2,422.8 250.7,421.9 248.2,421.1 245.7,420.2 243.3,419.3 240.9,418.4 238.5,417.5 236.1,416.5 233.8,415.6 231.5,414.6 229.2,413.6 227.0,412.6 224.8,411.6 222.6,410.6 220.5,409.5 218.3,408.5 216.3,407.4 214.2,406.4 212.2,405.3 210.2,404.2 208.2,403.1 206.3,402.0 204.4,400.8 202.6,399.7 200.7,398.6 198.9,397.4 197.2,396.2 195.4,395.1 193.8,393.9 192.1,392.7 190.5,391.5 188.9,390.3 187.3,389.1 185.8,387.8 184.3,386.6 182.9,385.4 181.5,384.1 180.1,382.8 178.7,381.6 177.4,380.3 176.2,379.0 174.9,377.8 173.7,376.5 172.6,375.2 171.4,373.9 170.3,372.6 169.3,371.3 168.2,370.0 167.2,368.6 166.3,367.3 165.4,366.0 164.5,364.7 164.6,365.6 165.5,366.9 166.4,368.2 167.3,369.6 168.3,370.9 169.4,372.2 170.4,373.5 171.5,374.8 172.6,376.1 173.8,377.4 175.0,378.7 176.3,380.0 177.5,381.2 178.8,382.5 180.2,383.8 181.6,385.0 183.0,386.3 184.4,387.5 185.9,388.8 187.4,390.0 189.0,391.2 190.6,392.4 192.2,393.6 193.8,394.8 195.5,396.0 197.3,397.2 199.0,398.4 200.8,399.5 202.6,400.7 204.5,401.8 206.4,402.9 208.3,404.0 210.3,405.1 212.3,406.2 214.3,407.3 216.3,408.4 218.4,409.5 220.5,410.5 222.7,411.5 224.9,412.6 227.1,413.6 229.3,414.6 231.6,415.5 233.9,416.5 236.2,417.5 238.6,418.4 240.9,419.3 243.4,420.3 245.8,421.2 248.3,422.0 250.8,422.9 253.3,423.8 255.8,424.6 258.4,425.4 261.0,426.2 263.6,427.0 266.3,427.8 269.0,428.5 271.7,429.3 274.4,430.0" fill="#4D3B62" opacity="0.49"/>
<polygon points="274.4,430.0 271.7,429.3 269.0,428.5 266.3,427.8 263.6,427.0 261.0,426.2 258.4,425.4 255.8,424.6 253.3,423.8 250.8,422.9 248.3,422.0 245.8,421.2 243.4,420.3 240.9,419.3 238.6,418.4 236.2,417.5 233.9,416.5 231.6,415.5 229.3,414.6 227.1,413.6 224.9,412.6 222.7,411.5 220.5,410.5 218.4,409.5 216.3,408.4 214.3,407.3 212.3,406.2 210.3,405.1 208.3,404.0 206.4,402.9 204.5,401.8 202.6,400.7 200.8,399.5 199.0,398.4 197.3,397.2 195.5,396.0 193.8,394.8 192.2,393.6 190.6,392.4 189.0,391.2 187.4,390.0 185.9,388.8 184.4,387.5 183.0,386.3 181.6,385.0 180.2,383.8 178.8,382.5 177.5,381.2 176.3,380.0 175.0,378.7 173.8,377.4 172.6,376.1 171.5,374.8 170.4,373.5 169.4,372.2 168.3,370.9 167.3,369.6 166.4,368.2 165.5,366.9 164.6,365.6 164.7,366.5 165.6,367.8 166.5,369.2 167.4,370.5 168.4,371.8 169.5,373.1 170.5,374.4 171.6,375.7 172.7,377.0 173.9,378.3 175.1,379.6 176.3,380.9 177.6,382.2 178.9,383.5 180.3,384.7 181.7,386.0 183.1,387.2 184.5,388.5 186.0,389.7 187.5,390.9 189.1,392.2 190.7,393.4 192.3,394.6 193.9,395.8 195.6,397.0 197.3,398.1 199.1,399.3 200.9,400.5 202.7,401.6 204.6,402.7 206.5,403.9 208.4,405.0 210.4,406.1 212.3,407.2 214.4,408.3 216.4,409.3 218.5,410.4 220.6,411.5 222.8,412.5 224.9,413.5 227.1,414.5 229.4,415.5 231.7,416.5 234.0,417.5 236.3,418.4 238.6,419.4 241.0,420.3 243.4,421.2 245.9,422.1 248.3,423.0 250.8,423.9 253.4,424.7 255.9,425.6 258.5,426.4 261.1,427.2 263.7,428.0 266.4,428.8 269.0,429.5 271.7,430.3 274.4,431.0" fill="#4D3B62" opacity="0.39"/>
<polygon points="274.4,431.0 271.7,430.3 269.0,429.5 266.4,428.8 263.7,428.0 261.1,427.2 258.5,426.4 255.9,425.6 253.4,424.7 250.8,423.9 248.3,423.0 245.9,422.1 243.4,421.2 241.0,420.3 238.6,419.4 236.3,418.4 234.0,417.5 231.7,416.5 229.4,415.5 227.1,414.5 224.9,413.5 222.8,412.5 220.6,411.5 218.5,410.4 216.4,409.3 214.4,408.3 212.3,407.2 210.4,406.1 208.4,405.0 206.5,403.9 204.6,402.7 202.7,401.6 200.9,400.5 199.1,399.3 197.3,398.1 195.6,397.0 193.9,395.8 192.3,394.6 190.7,393.4 189.1,392.2 187.5,390.9 186.0,389.7 184.5,388.5 183.1,387.2 181.7,386.0 180.3,384.7 178.9,383.5 177.6,382.2 176.3,380.9 175.1,379.6 173.9,378.3 172.7,377.0 171.6,375.7 170.5,374.4 169.5,373.1 168.4,371.8 167.4,370.5 166.5,369.2 165.6,367.8 164.7,366.5 164.8,367.4 165.7,368.8 166.6,370.1 167.5,371.4 168.5,372.7 169.5,374.0 170.6,375.4 171.7,376.7 172.8,378.0 174.0,379.3 175.2,380.5 176.4,381.8 177.7,383.1 179.0,384.4 180.4,385.6 181.7,386.9 183.2,388.2 184.6,389.4 186.1,390.6 187.6,391.9 189.2,393.1 190.7,394.3 192.4,395.5 194.0,396.7 195.7,397.9 197.4,399.1 199.2,400.2 201.0,401.4 202.8,402.6 204.7,403.7 206.6,404.8 208.5,405.9 210.4,407.0 212.4,408.1 214.4,409.2 216.5,410.3 218.6,411.4 220.7,412.4 222.8,413.4 225.0,414.5 227.2,415.5 229.5,416.5 231.7,417.5 234.0,418.4 236.4,419.4 238.7,420.3 241.1,421.3 243.5,422.2 245.9,423.1 248.4,424.0 250.9,424.8 253.4,425.7 256.0,426.5 258.5,427.3 261.1,428.2 263.8,428.9 266.4,429.7 269.1,430.5 271.8,431.2 274.5,431.9" fill="#4D3B62" opacity="0.30"/>
<polygon points="274.5,431.9 271.8,431.2 269.1,430.5 266.4,429.7 263.8,428.9 261.1,428.2 258.5,427.3 256.0,426.5 253.4,425.7 250.9,424.8 248.4,424.0 245.9,423.1 243.5,422.2 241.1,421.3 238.7,420.3 236.4,419.4 234.0,418.4 231.7,417.5 229.5,416.5 227.2,415.5 225.0,414.5 222.8,413.4 220.7,412.4 218.6,411.4 216.5,410.3 214.4,409.2 212.4,408.1 210.4,407.0 208.5,405.9 206.6,404.8 204.7,403.7 202.8,402.6 201.0,401.4 199.2,400.2 197.4,399.1 195.7,397.9 194.0,396.7 192.4,395.5 190.7,394.3 189.2,393.1 187.6,391.9 186.1,390.6 184.6,389.4 183.2,388.2 181.7,386.9 180.4,385.6 179.0,384.4 177.7,383.1 176.4,381.8 175.2,380.5 174.0,379.3 172.8,378.0 171.7,376.7 170.6,375.4 169.5,374.0 168.5,372.7 167.5,371.4 166.6,370.1 165.7,368.8 164.8,367.4 164.9,368.3 165.8,369.7 166.7,371.0 167.6,372.3 168.6,373.7 169.6,375.0 170.7,376.3 171.8,377.6 172.9,378.9 174.1,380.2 175.3,381.5 176.5,382.8 177.8,384.0 179.1,385.3 180.5,386.6 181.8,387.8 183.2,389.1 184.7,390.3 186.2,391.6 187.7,392.8 189.2,394.0 190.8,395.2 192.5,396.5 194.1,397.6 195.8,398.8 197.5,400.0 199.3,401.2 201.1,402.3 202.9,403.5 204.7,404.6 206.6,405.8 208.6,406.9 210.5,408.0 212.5,409.1 214.5,410.2 216.6,411.2 218.7,412.3 220.8,413.4 222.9,414.4 225.1,415.4 227.3,416.4 229.5,417.4 231.8,418.4 234.1,419.4 236.4,420.3 238.8,421.3 241.2,422.2 243.6,423.1 246.0,424.0 248.5,424.9 251.0,425.8 253.5,426.6 256.0,427.5 258.6,428.3 261.2,429.1 263.8,429.9 266.5,430.7 269.2,431.4 271.8,432.2 274.6,432.9" fill="#4D3B62" opacity="0.22"/>
<polygon points="274.6,432.9 271.8,432.2 269.2,431.4 266.5,430.7 263.8,429.9 261.2,429.1 258.6,428.3 256.0,427.5 253.5,426.6 251.0,425.8 248.5,424.9 246.0,424.0 243.6,423.1 241.2,422.2 238.8,421.3 236.4,420.3 234.1,419.4 231.8,418.4 229.5,417.4 227.3,416.4 225.1,415.4 222.9,414.4 220.8,413.4 218.7,412.3 216.6,411.2 214.5,410.2 212.5,409.1 210.5,408.0 208.6,406.9 206.6,405.8 204.7,404.6 202.9,403.5 201.1,402.3 199.3,401.2 197.5,400.0 195.8,398.8 194.1,397.6 192.5,396.5 190.8,395.2 189.2,394.0 187.7,392.8 186.2,391.6 184.7,390.3 183.2,389.1 181.8,387.8 180.5,386.6 179.1,385.3 177.8,384.0 176.5,382.8 175.3,381.5 174.1,380.2 172.9,378.9 171.8,377.6 170.7,376.3 169.6,375.0 168.6,373.7 167.6,372.3 166.7,371.0 165.8,369.7 164.9,368.3 165.0,369.3 165.8,370.6 166.8,371.9 167.7,373.3 168.7,374.6 169.7,375.9 170.8,377.2 171.9,378.5 173.0,379.8 174.2,381.1 175.4,382.4 176.6,383.7 177.9,385.0 179.2,386.2 180.5,387.5 181.9,388.8 183.3,390.0 184.8,391.3 186.3,392.5 187.8,393.7 189.3,395.0 190.9,396.2 192.5,397.4 194.2,398.6 195.9,399.8 197.6,401.0 199.4,402.1 201.2,403.3 203.0,404.4 204.8,405.6 206.7,406.7 208.6,407.8 210.6,408.9 212.6,410.0 214.6,411.1 216.7,412.2 218.7,413.3 220.9,414.3 223.0,415.3 225.2,416.4 227.4,417.4 229.6,418.4 231.9,419.4 234.2,420.3 236.5,421.3 238.9,422.2 241.2,423.2 243.6,424.1 246.1,425.0 248.6,425.9 251.0,426.7 253.6,427.6 256.1,428.4 258.7,429.3 261.3,430.1 263.9,430.9 266.5,431.6 269.2,432.4 271.9,433.1 274.6,433.9" fill="#4D3B62" opacity="0.14"/>
<polygon points="274.6,433.9 271.9,433.1 269.2,432.4 266.5,431.6 263.9,430.9 261.3,430.1 258.7,429.3 256.1,428.4 253.6,427.6 251.0,426.7 248.6,425.9 246.1,425.0 243.6,424.1 241.2,423.2 238.9,422.2 236.5,421.3 234.2,420.3 231.9,419.4 229.6,418.4 227.4,417.4 225.2,416.4 223.0,415.3 220.9,414.3 218.7,413.3 216.7,412.2 214.6,411.1 212.6,410.0 210.6,408.9 208.6,407.8 206.7,406.7 204.8,405.6 203.0,404.4 201.2,403.3 199.4,402.1 197.6,401.0 195.9,399.8 194.2,398.6 192.5,397.4 190.9,396.2 189.3,395.0 187.8,393.7 186.3,392.5 184.8,391.3 183.3,390.0 181.9,388.8 180.5,387.5 179.2,386.2 177.9,385.0 176.6,383.7 175.4,382.4 174.2,381.1 173.0,379.8 171.9,378.5 170.8,377.2 169.7,375.9 168.7,374.6 167.7,373.3 166.8,371.9 165.8,370.6 165.0,369.3 165.1,370.2 165.9,371.5 166.9,372.8 167.8,374.2 168.8,375.5 169.8,376.8 170.9,378.1 172.0,379.4 173.1,380.7 174.3,382.0 175.5,383.3 176.7,384.6 178.0,385.9 179.3,387.2 180.6,388.4 182.0,389.7 183.4,391.0 184.9,392.2 186.4,393.4 187.9,394.7 189.4,395.9 191.0,397.1 192.6,398.3 194.3,399.5 196.0,400.7 197.7,401.9 199.5,403.1 201.2,404.2 203.1,405.4 204.9,406.5 206.8,407.7 208.7,408.8 210.7,409.9 212.7,411.0 214.7,412.1 216.7,413.1 218.8,414.2 220.9,415.3 223.1,416.3 225.3,417.3 227.5,418.3 229.7,419.3 232.0,420.3 234.3,421.3 236.6,422.3 238.9,423.2 241.3,424.1 243.7,425.0 246.2,426.0 248.6,426.8 251.1,427.7 253.6,428.6 256.2,429.4 258.7,430.2 261.3,431.0 264.0,431.8 266.6,432.6 269.3,433.4 272.0,434.1 274.7,434.8" fill="#4D3B62" opacity="0.07"/>
<polygon points="274.7,434.8 272.0,434.1 269.3,433.4 266.6,432.6 264.0,431.8 261.3,431.0 258.7,430.2 256.2,429.4 253.6,428.6 251.1,427.7 248.6,426.8 246.2,426.0 243.7,425.0 241.3,424.1 238.9,423.2 236.6,422.3 234.3,421.3 232.0,420.3 229.7,419.3 227.5,418.3 225.3,417.3 223.1,416.3 220.9,415.3 218.8,414.2 216.7,413.1 214.7,412.1 212.7,411.0 210.7,409.9 208.7,408.8 206.8,407.7 204.9,406.5 203.1,405.4 201.2,404.2 199.5,403.1 197.7,401.9 196.0,400.7 194.3,399.5 192.6,398.3 191.0,397.1 189.4,395.9 187.9,394.7 186.4,393.4 184.9,392.2 183.4,391.0 182.0,389.7 180.6,388.4 179.3,387.2 178.0,385.9 176.7,384.6 175.5,383.3 174.3,382.0 173.1,380.7 172.0,379.4 170.9,378.1 169.8,376.8 168.8,375.5 167.8,374.2 166.9,372.8 165.9,371.5 165.1,370.2 165.2,371.1 166.0,372.4 167.0,373.8 167.9,375.1 168.9,376.4 169.9,377.7 171.0,379.0 172.1,380.4 173.2,381.7 174.4,383.0 175.6,384.3 176.8,385.5 178.1,386.8 179.4,388.1 180.7,389.4 182.1,390.6 183.5,391.9 185.0,393.1 186.4,394.4 188.0,395.6 189.5,396.8 191.1,398.1 192.7,399.3 194.4,400.5 196.1,401.7 197.8,402.8 199.5,404.0 201.3,405.2 203.1,406.3 205.0,407.5 206.9,408.6 208.8,409.7 210.8,410.8 212.8,411.9 214.8,413.0 216.8,414.1 218.9,415.2 221.0,416.2 223.2,417.2 225.3,418.3 227.5,419.3 229.8,420.3 232.0,421.3 234.3,422.3 236.7,423.2 239.0,424.2 241.4,425.1 243.8,426.0 246.2,426.9 248.7,427.8 251.2,428.7 253.7,429.5 256.2,430.4 258.8,431.2 261.4,432.0 264.0,432.8 266.7,433.6 269.3,434.3 272.0,435.1 274.7,435.8" fill="#4D3B62" opacity="0.02"/>
<polyline points="274.3,428.8 271.6,428.1 268.9,427.4 266.2,426.6 263.6,425.8 260.9,425.0 258.3,424.2 255.8,423.4 253.2,422.6 250.7,421.7 248.2,420.9 245.7,420.0 243.3,419.1 240.9,418.2 238.5,417.2 236.1,416.3 233.8,415.3 231.5,414.4 229.2,413.4 227.0,412.4 224.8,411.4 222.6,410.4 220.4,409.3 218.3,408.3 216.2,407.2 214.2,406.2 212.2,405.1 210.2,404.0 208.2,402.9 206.3,401.8 204.4,400.6 202.5,399.5 200.7,398.4 198.9,397.2 197.2,396.0 195.4,394.9 193.7,393.7 192.1,392.5 190.5,391.3 188.9,390.1 187.3,388.8 185.8,387.6 184.3,386.4 182.9,385.1 181.4,383.9 180.1,382.6 178.7,381.4 177.4,380.1 176.1,378.8 174.9,377.6 173.7,376.3 172.5,375.0 171.4,373.7 170.3,372.4 169.2,371.1 168.2,369.8 167.2,368.4 166.3,367.1 165.4,365.8 164.5,364.5" fill="none" stroke="url(#h3)" stroke-width="1.9"/>
<polygon points="478.7,271.3 473.2,182.3 472.6,224.2 477.9,317.5" fill="#120000" stroke="#120000" stroke-width="0.6" stroke-linejoin="round"/>
<polygon points="478.7,271.3 706.4,293.4 701.6,340.6 477.9,317.5" fill="#6B0000" stroke="#6B0000" stroke-width="0.6" stroke-linejoin="round"/>
<polygon points="478.7,271.3 473.2,182.3 475.4,182.3 477.7,182.3 480.0,182.4 482.3,182.4 484.6,182.4 486.8,182.5 489.1,182.6 491.4,182.7 493.7,182.7 495.9,182.8 498.2,182.9 500.5,183.1 502.8,183.2 505.0,183.3 507.3,183.5 509.6,183.7 511.8,183.8 514.1,184.0 516.3,184.2 518.6,184.4 520.8,184.6 523.1,184.8 525.3,185.1 527.6,185.3 529.8,185.6 532.0,185.8 534.3,186.1 536.5,186.4 538.7,186.7 540.9,187.0 543.1,187.3 545.3,187.6 547.5,188.0 549.7,188.3 551.9,188.7 554.1,189.1 556.3,189.4 558.4,189.8 560.6,190.2 562.7,190.6 564.9,191.1 567.0,191.5 569.1,191.9 571.3,192.4 573.4,192.8 575.5,193.3 577.6,193.8 579.7,194.3 581.8,194.8 583.8,195.3 585.9,195.8 587.9,196.3 590.0,196.9 592.0,197.4 594.0,198.0 596.0,198.5 598.0,199.1 600.0,199.7 602.0,200.3 604.0,200.9 605.9,201.5 607.9,202.2 609.8,202.8 611.7,203.4 613.7,204.1 615.5,204.8 617.4,205.4 619.3,206.1 621.2,206.8 623.0,207.5 624.8,208.2 626.7,208.9 628.5,209.7 630.2,210.4 632.0,211.2 633.8,211.9 635.5,212.7 637.2,213.5 639.0,214.2 640.7,215.0 642.3,215.8 644.0,216.7 645.7,217.5 647.3,218.3 648.9,219.1 650.5,220.0 652.1,220.8 653.7,221.7 655.2,222.6 656.7,223.5 658.2,224.4 659.7,225.2 661.2,226.2 662.7,227.1 664.1,228.0 665.5,228.9 666.9,229.9 668.3,230.8 669.6,231.8 671.0,232.7 672.3,233.7 673.6,234.7 674.8,235.6 676.1,236.6 677.3,237.6 678.5,238.6 679.7,239.6 680.9,240.7 682.0,241.7 683.1,242.7 684.2,243.8 685.3,244.8 686.4,245.9 687.4,246.9 688.4,248.0 689.4,249.1 690.3,250.1 691.2,251.2 692.1,252.3 693.0,253.4 693.9,254.5 694.7,255.6 695.5,256.8 696.3,257.9 697.0,259.0 697.8,260.1 698.5,261.3 699.1,262.4 699.8,263.5 700.4,264.7 701.0,265.9 701.5,267.0 702.1,268.2 702.6,269.3 703.0,270.5 703.5,271.7 703.9,272.9 704.3,274.1 704.7,275.2 705.0,276.4 705.3,277.6 705.6,278.8 705.8,280.0 706.0,281.2 706.2,282.4 706.3,283.6 706.5,284.9 706.6,286.1 706.6,287.3 706.6,288.5 706.6,289.7 706.6,290.9 706.5,292.2 706.4,293.4" fill="url(#t0)" stroke="#A80000" stroke-width="0.6" stroke-linejoin="round"/>
<polygon points="480.7,305.1 600.1,422.6 596.7,475.3 479.9,352.8" fill="#2E1212" stroke="#2E1212" stroke-width="0.6" stroke-linejoin="round"/>
<polygon points="719.5,331.3 719.4,332.7 719.2,334.0 718.9,335.4 718.7,336.7 718.4,338.1 718.0,339.4 717.7,340.8 717.3,342.2 716.8,343.5 716.3,344.9 715.8,346.2 715.3,347.5 714.7,348.9 714.1,350.2 713.4,351.6 712.8,352.9 712.0,354.3 711.3,355.6 710.5,356.9 709.7,358.3 708.8,359.6 707.9,360.9 707.0,362.2 706.0,363.5 705.0,364.9 703.9,366.2 702.8,367.5 701.7,368.8 700.6,370.1 699.4,371.3 698.2,372.6 696.9,373.9 695.6,375.2 694.3,376.4 692.9,377.7 691.5,378.9 690.1,380.2 688.6,381.4 687.1,382.6 685.6,383.8 684.0,385.1 682.4,386.3 680.7,387.5 679.0,388.6 677.3,389.8 675.6,391.0 673.8,392.1 672.0,393.3 670.1,394.4 668.2,395.5 666.3,396.7 664.3,397.8 662.4,398.9 660.3,399.9 658.3,401.0 656.2,402.1 654.1,403.1 651.9,404.1 649.8,405.2 647.5,406.2 645.3,407.2 643.0,408.2 640.7,409.1 638.4,410.1 636.0,411.0 633.7,411.9 631.2,412.9 628.8,413.7 626.3,414.6 623.8,415.5 621.3,416.3 618.7,417.2 616.1,418.0 613.5,418.8 610.9,419.6 608.2,420.4 605.6,421.1 602.9,421.9 600.1,422.6 596.7,475.3 599.4,474.5 602.0,473.8 604.7,473.0 607.3,472.2 609.9,471.3 612.4,470.5 614.9,469.7 617.5,468.8 619.9,467.9 622.4,467.0 624.8,466.1 627.2,465.2 629.6,464.2 631.9,463.2 634.2,462.3 636.5,461.3 638.8,460.3 641.0,459.2 643.2,458.2 645.4,457.2 647.5,456.1 649.6,455.0 651.7,453.9 653.8,452.8 655.8,451.7 657.8,450.6 659.7,449.5 661.6,448.3 663.5,447.2 665.4,446.0 667.2,444.8 669.0,443.6 670.8,442.4 672.5,441.2 674.2,440.0 675.8,438.7 677.4,437.5 679.0,436.2 680.6,435.0 682.1,433.7 683.6,432.4 685.0,431.2 686.5,429.9 687.8,428.6 689.2,427.3 690.5,425.9 691.8,424.6 693.0,423.3 694.2,422.0 695.4,420.6 696.5,419.3 697.6,417.9 698.7,416.6 699.7,415.2 700.7,413.8 701.7,412.5 702.6,411.1 703.5,409.7 704.4,408.3 705.2,407.0 706.0,405.6 706.7,404.2 707.5,402.8 708.1,401.4 708.8,400.0 709.4,398.6 710.0,397.2 710.5,395.8 711.0,394.4 711.5,393.0 711.9,391.5 712.3,390.1 712.7,388.7 713.1,387.3 713.4,385.9 713.6,384.5 713.9,383.1 714.1,381.7 714.2,380.3" fill="url(#g1wall)" stroke="#2A1010" stroke-width="0.6" stroke-linejoin="round"/>
<polygon points="480.7,305.1 719.7,329.3 719.6,330.7 719.4,332.0 719.3,333.3 719.1,334.7 718.8,336.0 718.5,337.4 718.2,338.7 717.9,340.1 717.5,341.4 717.1,342.7 716.6,344.1 716.1,345.4 715.6,346.8 715.0,348.1 714.5,349.4 713.8,350.8 713.2,352.1 712.5,353.4 711.7,354.8 711.0,356.1 710.2,357.4 709.3,358.7 708.5,360.1 707.6,361.4 706.6,362.7 705.6,364.0 704.6,365.3 703.6,366.6 702.5,367.9 701.4,369.2 700.2,370.5 699.0,371.7 697.8,373.0 696.5,374.3 695.2,375.5 693.9,376.8 692.5,378.0 691.1,379.3 689.7,380.5 688.2,381.7 686.7,382.9 685.2,384.1 683.6,385.3 682.0,386.5 680.3,387.7 678.7,388.9 676.9,390.1 675.2,391.2 673.4,392.4 671.6,393.5 669.8,394.6 667.9,395.7 666.0,396.9 664.0,397.9 662.0,399.0 660.0,400.1 658.0,401.2 655.9,402.2 653.8,403.3 651.7,404.3 649.5,405.3 647.3,406.3 645.1,407.3 642.8,408.3 640.5,409.2 638.2,410.2 635.8,411.1 633.5,412.0 631.1,412.9 628.6,413.8 626.2,414.7 623.7,415.5 621.2,416.4 618.6,417.2 616.1,418.0 613.5,418.8 610.8,419.6 608.2,420.4 605.5,421.1 602.8,421.9 600.1,422.6" fill="url(#t1)" stroke="#722B2B" stroke-width="0.6" stroke-linejoin="round"/>
<polygon points="719.5,331.3 719.4,332.7 719.2,334.0 718.9,335.4 718.7,336.7 718.4,338.1 718.0,339.4 717.7,340.8 717.3,342.2 716.8,343.5 716.3,344.9 715.8,346.2 715.3,347.5 714.7,348.9 714.1,350.2 713.4,351.6 712.8,352.9 712.0,354.3 711.3,355.6 710.5,356.9 709.7,358.3 708.8,359.6 707.9,360.9 707.0,362.2 706.0,363.5 705.0,364.9 703.9,366.2 702.8,367.5 701.7,368.8 700.6,370.1 699.4,371.3 698.2,372.6 696.9,373.9 695.6,375.2 694.3,376.4 692.9,377.7 691.5,378.9 690.1,380.2 688.6,381.4 687.1,382.6 685.6,383.8 684.0,385.1 682.4,386.3 680.7,387.5 679.0,388.6 677.3,389.8 675.6,391.0 673.8,392.1 672.0,393.3 670.1,394.4 668.2,395.5 666.3,396.7 664.3,397.8 662.4,398.9 660.3,399.9 658.3,401.0 656.2,402.1 654.1,403.1 651.9,404.1 649.8,405.2 647.5,406.2 645.3,407.2 643.0,408.2 640.7,409.1 638.4,410.1 636.0,411.0 633.7,411.9 631.2,412.9 628.8,413.7 626.3,414.6 623.8,415.5 621.3,416.3 618.7,417.2 616.1,418.0 613.5,418.8 610.9,419.6 608.2,420.4 605.6,421.1 602.9,421.9 600.1,422.6 600.1,423.7 602.8,422.9 605.5,422.2 608.2,421.4 610.8,420.7 613.5,419.9 616.1,419.1 618.7,418.3 621.2,417.4 623.7,416.6 626.2,415.7 628.7,414.8 631.2,413.9 633.6,413.0 636.0,412.1 638.3,411.1 640.6,410.2 642.9,409.2 645.2,408.2 647.5,407.2 649.7,406.2 651.8,405.2 654.0,404.2 656.1,403.1 658.2,402.1 660.2,401.0 662.3,399.9 664.2,398.8 666.2,397.7 668.1,396.6 670.0,395.5 671.9,394.3 673.7,393.2 675.5,392.0 677.2,390.9 678.9,389.7 680.6,388.5 682.3,387.3 683.9,386.1 685.4,384.9 687.0,383.7 688.5,382.4 690.0,381.2 691.4,380.0 692.8,378.7 694.2,377.5 695.5,376.2 696.8,374.9 698.1,373.7 699.3,372.4 700.5,371.1 701.6,369.8 702.7,368.5 703.8,367.2 704.9,365.9 705.9,364.6 706.8,363.3 707.8,361.9 708.7,360.6 709.5,359.3 710.4,357.9 711.2,356.6 711.9,355.3 712.6,353.9 713.3,352.6 714.0,351.3 714.6,349.9 715.2,348.6 715.7,347.2 716.2,345.9 716.7,344.5 717.1,343.2 717.6,341.8 717.9,340.5 718.3,339.1 718.6,337.7 718.8,336.4 719.1,335.0 719.3,333.7 719.4,332.3" fill="#722B2B" opacity="0.80"/>
<polygon points="719.4,332.3 719.3,333.7 719.1,335.0 718.8,336.4 718.6,337.7 718.3,339.1 717.9,340.5 717.6,341.8 717.1,343.2 716.7,344.5 716.2,345.9 715.7,347.2 715.2,348.6 714.6,349.9 714.0,351.3 713.3,352.6 712.6,353.9 711.9,355.3 711.2,356.6 710.4,357.9 709.5,359.3 708.7,360.6 707.8,361.9 706.8,363.3 705.9,364.6 704.9,365.9 703.8,367.2 702.7,368.5 701.6,369.8 700.5,371.1 699.3,372.4 698.1,373.7 696.8,374.9 695.5,376.2 694.2,377.5 692.8,378.7 691.4,380.0 690.0,381.2 688.5,382.4 687.0,383.7 685.4,384.9 683.9,386.1 682.3,387.3 680.6,388.5 678.9,389.7 677.2,390.9 675.5,392.0 673.7,393.2 671.9,394.3 670.0,395.5 668.1,396.6 666.2,397.7 664.2,398.8 662.3,399.9 660.2,401.0 658.2,402.1 656.1,403.1 654.0,404.2 651.8,405.2 649.7,406.2 647.5,407.2 645.2,408.2 642.9,409.2 640.6,410.2 638.3,411.1 636.0,412.1 633.6,413.0 631.2,413.9 628.7,414.8 626.2,415.7 623.7,416.6 621.2,417.4 618.7,418.3 616.1,419.1 613.5,419.9 610.8,420.7 608.2,421.4 605.5,422.2 602.8,422.9 600.1,423.7 600.0,424.7 602.7,424.0 605.4,423.3 608.1,422.5 610.8,421.7 613.4,421.0 616.0,420.1 618.6,419.3 621.1,418.5 623.7,417.6 626.2,416.8 628.6,415.9 631.1,415.0 633.5,414.1 635.9,413.1 638.2,412.2 640.6,411.2 642.9,410.3 645.1,409.3 647.4,408.3 649.6,407.3 651.8,406.3 653.9,405.2 656.0,404.2 658.1,403.1 660.1,402.1 662.2,401.0 664.2,399.9 666.1,398.8 668.0,397.6 669.9,396.5 671.8,395.4 673.6,394.2 675.4,393.1 677.1,391.9 678.8,390.7 680.5,389.5 682.2,388.4 683.8,387.1 685.3,385.9 686.9,384.7 688.4,383.5 689.9,382.2 691.3,381.0 692.7,379.8 694.1,378.5 695.4,377.2 696.7,376.0 698.0,374.7 699.2,373.4 700.4,372.1 701.5,370.8 702.6,369.5 703.7,368.2 704.8,366.9 705.8,365.6 706.7,364.3 707.7,363.0 708.6,361.6 709.4,360.3 710.3,359.0 711.1,357.6 711.8,356.3 712.5,355.0 713.2,353.6 713.9,352.3 714.5,350.9 715.1,349.6 715.6,348.2 716.1,346.9 716.6,345.5 717.0,344.2 717.4,342.8 717.8,341.5 718.1,340.1 718.4,338.7 718.7,337.4 718.9,336.0 719.1,334.7 719.3,333.3" fill="#722B2B" opacity="0.69"/>
<polygon points="719.3,333.3 719.1,334.7 718.9,336.0 718.7,337.4 718.4,338.7 718.1,340.1 717.8,341.5 717.4,342.8 717.0,344.2 716.6,345.5 716.1,346.9 715.6,348.2 715.1,349.6 714.5,350.9 713.9,352.3 713.2,353.6 712.5,355.0 711.8,356.3 711.1,357.6 710.3,359.0 709.4,360.3 708.6,361.6 707.7,363.0 706.7,364.3 705.8,365.6 704.8,366.9 703.7,368.2 702.6,369.5 701.5,370.8 700.4,372.1 699.2,373.4 698.0,374.7 696.7,376.0 695.4,377.2 694.1,378.5 692.7,379.8 691.3,381.0 689.9,382.2 688.4,383.5 686.9,384.7 685.3,385.9 683.8,387.1 682.2,388.4 680.5,389.5 678.8,390.7 677.1,391.9 675.4,393.1 673.6,394.2 671.8,395.4 669.9,396.5 668.0,397.6 666.1,398.8 664.2,399.9 662.2,401.0 660.1,402.1 658.1,403.1 656.0,404.2 653.9,405.2 651.8,406.3 649.6,407.3 647.4,408.3 645.1,409.3 642.9,410.3 640.6,411.2 638.2,412.2 635.9,413.1 633.5,414.1 631.1,415.0 628.6,415.9 626.2,416.8 623.7,417.6 621.1,418.5 618.6,419.3 616.0,420.1 613.4,421.0 610.8,421.7 608.1,422.5 605.4,423.3 602.7,424.0 600.0,424.7 599.9,425.8 602.6,425.1 605.4,424.3 608.0,423.6 610.7,422.8 613.3,422.0 615.9,421.2 618.5,420.4 621.1,419.6 623.6,418.7 626.1,417.8 628.5,417.0 631.0,416.1 633.4,415.1 635.8,414.2 638.1,413.3 640.5,412.3 642.8,411.3 645.0,410.4 647.3,409.4 649.5,408.3 651.7,407.3 653.8,406.3 655.9,405.2 658.0,404.2 660.1,403.1 662.1,402.0 664.1,400.9 666.0,399.8 667.9,398.7 669.8,397.6 671.7,396.4 673.5,395.3 675.3,394.1 677.0,393.0 678.7,391.8 680.4,390.6 682.1,389.4 683.7,388.2 685.2,387.0 686.8,385.8 688.3,384.5 689.8,383.3 691.2,382.0 692.6,380.8 694.0,379.5 695.3,378.3 696.6,377.0 697.9,375.7 699.1,374.4 700.3,373.1 701.4,371.8 702.5,370.5 703.6,369.2 704.7,367.9 705.7,366.6 706.6,365.3 707.6,364.0 708.5,362.6 709.3,361.3 710.2,360.0 711.0,358.6 711.7,357.3 712.4,356.0 713.1,354.6 713.8,353.3 714.4,351.9 715.0,350.6 715.5,349.2 716.0,347.9 716.5,346.5 716.9,345.2 717.3,343.8 717.7,342.5 718.0,341.1 718.3,339.7 718.6,338.4 718.8,337.0 719.0,335.7 719.2,334.3" fill="#722B2B" opacity="0.58"/>
<polygon points="719.2,334.3 719.0,335.7 718.8,337.0 718.6,338.4 718.3,339.7 718.0,341.1 717.7,342.5 717.3,343.8 716.9,345.2 716.5,346.5 716.0,347.9 715.5,349.2 715.0,350.6 714.4,351.9 713.8,353.3 713.1,354.6 712.4,356.0 711.7,357.3 711.0,358.6 710.2,360.0 709.3,361.3 708.5,362.6 707.6,364.0 706.6,365.3 705.7,366.6 704.7,367.9 703.6,369.2 702.5,370.5 701.4,371.8 700.3,373.1 699.1,374.4 697.9,375.7 696.6,377.0 695.3,378.3 694.0,379.5 692.6,380.8 691.2,382.0 689.8,383.3 688.3,384.5 686.8,385.8 685.2,387.0 683.7,388.2 682.1,389.4 680.4,390.6 678.7,391.8 677.0,393.0 675.3,394.1 673.5,395.3 671.7,396.4 669.8,397.6 667.9,398.7 666.0,399.8 664.1,400.9 662.1,402.0 660.1,403.1 658.0,404.2 655.9,405.2 653.8,406.3 651.7,407.3 649.5,408.3 647.3,409.4 645.0,410.4 642.8,411.3 640.5,412.3 638.1,413.3 635.8,414.2 633.4,415.1 631.0,416.1 628.5,417.0 626.1,417.8 623.6,418.7 621.1,419.6 618.5,420.4 615.9,421.2 613.3,422.0 610.7,422.8 608.0,423.6 605.4,424.3 602.6,425.1 599.9,425.8 599.9,426.9 602.6,426.2 605.3,425.4 608.0,424.7 610.6,423.9 613.2,423.1 615.8,422.3 618.4,421.5 621.0,420.6 623.5,419.8 626.0,418.9 628.5,418.0 630.9,417.1 633.3,416.2 635.7,415.3 638.1,414.3 640.4,413.4 642.7,412.4 645.0,411.4 647.2,410.4 649.4,409.4 651.6,408.4 653.7,407.3 655.8,406.3 657.9,405.2 660.0,404.2 662.0,403.1 664.0,402.0 665.9,400.9 667.8,399.8 669.7,398.6 671.6,397.5 673.4,396.3 675.2,395.2 676.9,394.0 678.6,392.8 680.3,391.6 682.0,390.4 683.6,389.2 685.1,388.0 686.7,386.8 688.2,385.6 689.7,384.3 691.1,383.1 692.5,381.8 693.9,380.6 695.2,379.3 696.5,378.0 697.7,376.7 699.0,375.5 700.2,374.2 701.3,372.9 702.4,371.6 703.5,370.3 704.5,369.0 705.6,367.6 706.5,366.3 707.5,365.0 708.4,363.7 709.2,362.3 710.1,361.0 710.8,359.7 711.6,358.3 712.3,357.0 713.0,355.6 713.7,354.3 714.3,352.9 714.9,351.6 715.4,350.2 715.9,348.9 716.4,347.5 716.8,346.2 717.2,344.8 717.6,343.5 717.9,342.1 718.2,340.7 718.5,339.4 718.7,338.0 718.9,336.7 719.1,335.3" fill="#722B2B" opacity="0.49"/>
<polygon points="719.1,335.3 718.9,336.7 718.7,338.0 718.5,339.4 718.2,340.7 717.9,342.1 717.6,343.5 717.2,344.8 716.8,346.2 716.4,347.5 715.9,348.9 715.4,350.2 714.9,351.6 714.3,352.9 713.7,354.3 713.0,355.6 712.3,357.0 711.6,358.3 710.8,359.7 710.1,361.0 709.2,362.3 708.4,363.7 707.5,365.0 706.5,366.3 705.6,367.6 704.5,369.0 703.5,370.3 702.4,371.6 701.3,372.9 700.2,374.2 699.0,375.5 697.7,376.7 696.5,378.0 695.2,379.3 693.9,380.6 692.5,381.8 691.1,383.1 689.7,384.3 688.2,385.6 686.7,386.8 685.1,388.0 683.6,389.2 682.0,390.4 680.3,391.6 678.6,392.8 676.9,394.0 675.2,395.2 673.4,396.3 671.6,397.5 669.7,398.6 667.8,399.8 665.9,400.9 664.0,402.0 662.0,403.1 660.0,404.2 657.9,405.2 655.8,406.3 653.7,407.3 651.6,408.4 649.4,409.4 647.2,410.4 645.0,411.4 642.7,412.4 640.4,413.4 638.1,414.3 635.7,415.3 633.3,416.2 630.9,417.1 628.5,418.0 626.0,418.9 623.5,419.8 621.0,420.6 618.4,421.5 615.8,422.3 613.2,423.1 610.6,423.9 608.0,424.7 605.3,425.4 602.6,426.2 599.9,426.9 599.8,428.0 602.5,427.2 605.2,426.5 607.9,425.7 610.5,425.0 613.2,424.2 615.8,423.4 618.3,422.5 620.9,421.7 623.4,420.8 625.9,420.0 628.4,419.1 630.8,418.2 633.2,417.3 635.6,416.3 638.0,415.4 640.3,414.4 642.6,413.5 644.9,412.5 647.1,411.5 649.3,410.5 651.5,409.4 653.6,408.4 655.7,407.3 657.8,406.3 659.9,405.2 661.9,404.1 663.9,403.0 665.8,401.9 667.7,400.8 669.6,399.7 671.5,398.5 673.3,397.4 675.1,396.2 676.8,395.0 678.5,393.9 680.2,392.7 681.9,391.5 683.5,390.3 685.0,389.1 686.6,387.8 688.1,386.6 689.6,385.4 691.0,384.1 692.4,382.9 693.8,381.6 695.1,380.3 696.4,379.1 697.6,377.8 698.9,376.5 700.1,375.2 701.2,373.9 702.3,372.6 703.4,371.3 704.4,370.0 705.4,368.7 706.4,367.3 707.4,366.0 708.3,364.7 709.1,363.4 709.9,362.0 710.7,360.7 711.5,359.3 712.2,358.0 712.9,356.6 713.6,355.3 714.2,353.9 714.7,352.6 715.3,351.2 715.8,349.9 716.3,348.5 716.7,347.2 717.1,345.8 717.5,344.5 717.8,343.1 718.1,341.7 718.4,340.4 718.6,339.0 718.8,337.7 719.0,336.3" fill="#722B2B" opacity="0.39"/>
<polygon points="719.0,336.3 718.8,337.7 718.6,339.0 718.4,340.4 718.1,341.7 717.8,343.1 717.5,344.5 717.1,345.8 716.7,347.2 716.3,348.5 715.8,349.9 715.3,351.2 714.7,352.6 714.2,353.9 713.6,355.3 712.9,356.6 712.2,358.0 711.5,359.3 710.7,360.7 709.9,362.0 709.1,363.4 708.3,364.7 707.4,366.0 706.4,367.3 705.4,368.7 704.4,370.0 703.4,371.3 702.3,372.6 701.2,373.9 700.1,375.2 698.9,376.5 697.6,377.8 696.4,379.1 695.1,380.3 693.8,381.6 692.4,382.9 691.0,384.1 689.6,385.4 688.1,386.6 686.6,387.8 685.0,389.1 683.5,390.3 681.9,391.5 680.2,392.7 678.5,393.9 676.8,395.0 675.1,396.2 673.3,397.4 671.5,398.5 669.6,399.7 667.7,400.8 665.8,401.9 663.9,403.0 661.9,404.1 659.9,405.2 657.8,406.3 655.7,407.3 653.6,408.4 651.5,409.4 649.3,410.5 647.1,411.5 644.9,412.5 642.6,413.5 640.3,414.4 638.0,415.4 635.6,416.3 633.2,417.3 630.8,418.2 628.4,419.1 625.9,420.0 623.4,420.8 620.9,421.7 618.3,422.5 615.8,423.4 613.2,424.2 610.5,425.0 607.9,425.7 605.2,426.5 602.5,427.2 599.8,428.0 599.7,429.0 602.4,428.3 605.1,427.6 607.8,426.8 610.5,426.0 613.1,425.2 615.7,424.4 618.3,423.6 620.8,422.8 623.3,421.9 625.8,421.0 628.3,420.1 630.7,419.2 633.2,418.3 635.5,417.4 637.9,416.5 640.2,415.5 642.5,414.5 644.8,413.5 647.0,412.5 649.2,411.5 651.4,410.5 653.5,409.5 655.7,408.4 657.7,407.3 659.8,406.3 661.8,405.2 663.8,404.1 665.7,403.0 667.6,401.8 669.5,400.7 671.4,399.6 673.2,398.4 675.0,397.3 676.7,396.1 678.4,394.9 680.1,393.7 681.8,392.5 683.4,391.3 684.9,390.1 686.5,388.9 688.0,387.6 689.5,386.4 690.9,385.1 692.3,383.9 693.7,382.6 695.0,381.4 696.3,380.1 697.5,378.8 698.8,377.5 699.9,376.2 701.1,374.9 702.2,373.6 703.3,372.3 704.3,371.0 705.3,369.7 706.3,368.4 707.2,367.0 708.1,365.7 709.0,364.4 709.8,363.0 710.6,361.7 711.4,360.4 712.1,359.0 712.8,357.7 713.4,356.3 714.1,355.0 714.6,353.6 715.2,352.2 715.7,350.9 716.2,349.5 716.6,348.2 717.0,346.8 717.4,345.5 717.7,344.1 718.0,342.7 718.3,341.4 718.5,340.0 718.7,338.7 718.9,337.3" fill="#722B2B" opacity="0.30"/>
<polygon points="718.9,337.3 718.7,338.7 718.5,340.0 718.3,341.4 718.0,342.7 717.7,344.1 717.4,345.5 717.0,346.8 716.6,348.2 716.2,349.5 715.7,350.9 715.2,352.2 714.6,353.6 714.1,355.0 713.4,356.3 712.8,357.7 712.1,359.0 711.4,360.4 710.6,361.7 709.8,363.0 709.0,364.4 708.1,365.7 707.2,367.0 706.3,368.4 705.3,369.7 704.3,371.0 703.3,372.3 702.2,373.6 701.1,374.9 699.9,376.2 698.8,377.5 697.5,378.8 696.3,380.1 695.0,381.4 693.7,382.6 692.3,383.9 690.9,385.1 689.5,386.4 688.0,387.6 686.5,388.9 684.9,390.1 683.4,391.3 681.8,392.5 680.1,393.7 678.4,394.9 676.7,396.1 675.0,397.3 673.2,398.4 671.4,399.6 669.5,400.7 667.6,401.8 665.7,403.0 663.8,404.1 661.8,405.2 659.8,406.3 657.7,407.3 655.7,408.4 653.5,409.5 651.4,410.5 649.2,411.5 647.0,412.5 644.8,413.5 642.5,414.5 640.2,415.5 637.9,416.5 635.5,417.4 633.2,418.3 630.7,419.2 628.3,420.1 625.8,421.0 623.3,421.9 620.8,422.8 618.3,423.6 615.7,424.4 613.1,425.2 610.5,426.0 607.8,426.8 605.1,427.6 602.4,428.3 599.7,429.0 599.6,430.1 602.4,429.4 605.1,428.6 607.7,427.9 610.4,427.1 613.0,426.3 615.6,425.5 618.2,424.7 620.7,423.8 623.3,423.0 625.8,422.1 628.2,421.2 630.7,420.3 633.1,419.4 635.5,418.5 637.8,417.5 640.1,416.6 642.4,415.6 644.7,414.6 646.9,413.6 649.1,412.6 651.3,411.5 653.4,410.5 655.6,409.5 657.6,408.4 659.7,407.3 661.7,406.2 663.7,405.1 665.6,404.0 667.5,402.9 669.4,401.8 671.3,400.6 673.1,399.5 674.9,398.3 676.6,397.1 678.3,396.0 680.0,394.8 681.7,393.6 683.3,392.3 684.8,391.1 686.4,389.9 687.9,388.7 689.4,387.4 690.8,386.2 692.2,384.9 693.6,383.7 694.9,382.4 696.2,381.1 697.4,379.8 698.7,378.5 699.8,377.3 701.0,376.0 702.1,374.6 703.2,373.3 704.2,372.0 705.2,370.7 706.2,369.4 707.1,368.1 708.0,366.7 708.9,365.4 709.7,364.0 710.5,362.7 711.3,361.4 712.0,360.0 712.7,358.7 713.3,357.3 714.0,356.0 714.5,354.6 715.1,353.3 715.6,351.9 716.1,350.5 716.5,349.2 716.9,347.8 717.3,346.5 717.6,345.1 717.9,343.7 718.2,342.4 718.4,341.0 718.6,339.7 718.8,338.3" fill="#722B2B" opacity="0.22"/>
<polygon points="718.8,338.3 718.6,339.7 718.4,341.0 718.2,342.4 717.9,343.7 717.6,345.1 717.3,346.5 716.9,347.8 716.5,349.2 716.1,350.5 715.6,351.9 715.1,353.3 714.5,354.6 714.0,356.0 713.3,357.3 712.7,358.7 712.0,360.0 711.3,361.4 710.5,362.7 709.7,364.0 708.9,365.4 708.0,366.7 707.1,368.1 706.2,369.4 705.2,370.7 704.2,372.0 703.2,373.3 702.1,374.6 701.0,376.0 699.8,377.3 698.7,378.5 697.4,379.8 696.2,381.1 694.9,382.4 693.6,383.7 692.2,384.9 690.8,386.2 689.4,387.4 687.9,388.7 686.4,389.9 684.8,391.1 683.3,392.3 681.7,393.6 680.0,394.8 678.3,396.0 676.6,397.1 674.9,398.3 673.1,399.5 671.3,400.6 669.4,401.8 667.5,402.9 665.6,404.0 663.7,405.1 661.7,406.2 659.7,407.3 657.6,408.4 655.6,409.5 653.4,410.5 651.3,411.5 649.1,412.6 646.9,413.6 644.7,414.6 642.4,415.6 640.1,416.6 637.8,417.5 635.5,418.5 633.1,419.4 630.7,420.3 628.2,421.2 625.8,422.1 623.3,423.0 620.7,423.8 618.2,424.7 615.6,425.5 613.0,426.3 610.4,427.1 607.7,427.9 605.1,428.6 602.4,429.4 599.6,430.1 599.6,431.2 602.3,430.4 605.0,429.7 607.7,428.9 610.3,428.2 612.9,427.4 615.5,426.6 618.1,425.7 620.7,424.9 623.2,424.0 625.7,423.2 628.1,422.3 630.6,421.4 633.0,420.4 635.4,419.5 637.7,418.6 640.1,417.6 642.3,416.6 644.6,415.6 646.8,414.6 649.0,413.6 651.2,412.6 653.4,411.6 655.5,410.5 657.5,409.4 659.6,408.4 661.6,407.3 663.6,406.2 665.5,405.1 667.5,403.9 669.3,402.8 671.2,401.7 673.0,400.5 674.8,399.3 676.5,398.2 678.2,397.0 679.9,395.8 681.6,394.6 683.2,393.4 684.7,392.2 686.3,390.9 687.8,389.7 689.3,388.5 690.7,387.2 692.1,386.0 693.5,384.7 694.8,383.4 696.1,382.1 697.3,380.9 698.6,379.6 699.7,378.3 700.9,377.0 702.0,375.7 703.1,374.4 704.1,373.0 705.1,371.7 706.1,370.4 707.0,369.1 707.9,367.7 708.8,366.4 709.6,365.1 710.4,363.7 711.2,362.4 711.9,361.0 712.6,359.7 713.2,358.3 713.8,357.0 714.4,355.6 715.0,354.3 715.5,352.9 716.0,351.5 716.4,350.2 716.8,348.8 717.2,347.5 717.5,346.1 717.8,344.7 718.1,343.4 718.3,342.0 718.5,340.7 718.7,339.3" fill="#722B2B" opacity="0.14"/>
<polygon points="718.7,339.3 718.5,340.7 718.3,342.0 718.1,343.4 717.8,344.7 717.5,346.1 717.2,347.5 716.8,348.8 716.4,350.2 716.0,351.5 715.5,352.9 715.0,354.3 714.4,355.6 713.8,357.0 713.2,358.3 712.6,359.7 711.9,361.0 711.2,362.4 710.4,363.7 709.6,365.1 708.8,366.4 707.9,367.7 707.0,369.1 706.1,370.4 705.1,371.7 704.1,373.0 703.1,374.4 702.0,375.7 700.9,377.0 699.7,378.3 698.6,379.6 697.3,380.9 696.1,382.1 694.8,383.4 693.5,384.7 692.1,386.0 690.7,387.2 689.3,388.5 687.8,389.7 686.3,390.9 684.7,392.2 683.2,393.4 681.6,394.6 679.9,395.8 678.2,397.0 676.5,398.2 674.8,399.3 673.0,400.5 671.2,401.7 669.3,402.8 667.5,403.9 665.5,405.1 663.6,406.2 661.6,407.3 659.6,408.4 657.5,409.4 655.5,410.5 653.4,411.6 651.2,412.6 649.0,413.6 646.8,414.6 644.6,415.6 642.3,416.6 640.1,417.6 637.7,418.6 635.4,419.5 633.0,420.4 630.6,421.4 628.1,422.3 625.7,423.2 623.2,424.0 620.7,424.9 618.1,425.7 615.5,426.6 612.9,427.4 610.3,428.2 607.7,428.9 605.0,429.7 602.3,430.4 599.6,431.2 599.5,432.2 602.2,431.5 604.9,430.8 607.6,430.0 610.2,429.2 612.9,428.4 615.5,427.6 618.0,426.8 620.6,426.0 623.1,425.1 625.6,424.2 628.1,423.3 630.5,422.4 632.9,421.5 635.3,420.6 637.6,419.6 640.0,418.7 642.3,417.7 644.5,416.7 646.8,415.7 649.0,414.7 651.1,413.7 653.3,412.6 655.4,411.6 657.5,410.5 659.5,409.4 661.5,408.3 663.5,407.2 665.4,406.1 667.4,405.0 669.2,403.9 671.1,402.7 672.9,401.6 674.7,400.4 676.4,399.2 678.1,398.0 679.8,396.8 681.5,395.6 683.1,394.4 684.6,393.2 686.2,392.0 687.7,390.7 689.2,389.5 690.6,388.2 692.0,387.0 693.3,385.7 694.7,384.5 696.0,383.2 697.2,381.9 698.4,380.6 699.6,379.3 700.8,378.0 701.9,376.7 703.0,375.4 704.0,374.1 705.0,372.7 706.0,371.4 706.9,370.1 707.8,368.8 708.7,367.4 709.5,366.1 710.3,364.7 711.1,363.4 711.8,362.0 712.5,360.7 713.1,359.3 713.7,358.0 714.3,356.6 714.9,355.3 715.4,353.9 715.8,352.5 716.3,351.2 716.7,349.8 717.1,348.5 717.4,347.1 717.7,345.7 718.0,344.4 718.2,343.0 718.4,341.6 718.6,340.3" fill="#722B2B" opacity="0.07"/>
<polygon points="718.6,340.3 718.4,341.6 718.2,343.0 718.0,344.4 717.7,345.7 717.4,347.1 717.1,348.5 716.7,349.8 716.3,351.2 715.8,352.5 715.4,353.9 714.9,355.3 714.3,356.6 713.7,358.0 713.1,359.3 712.5,360.7 711.8,362.0 711.1,363.4 710.3,364.7 709.5,366.1 708.7,367.4 707.8,368.8 706.9,370.1 706.0,371.4 705.0,372.7 704.0,374.1 703.0,375.4 701.9,376.7 700.8,378.0 699.6,379.3 698.4,380.6 697.2,381.9 696.0,383.2 694.7,384.5 693.3,385.7 692.0,387.0 690.6,388.2 689.2,389.5 687.7,390.7 686.2,392.0 684.6,393.2 683.1,394.4 681.5,395.6 679.8,396.8 678.1,398.0 676.4,399.2 674.7,400.4 672.9,401.6 671.1,402.7 669.2,403.9 667.4,405.0 665.4,406.1 663.5,407.2 661.5,408.3 659.5,409.4 657.5,410.5 655.4,411.6 653.3,412.6 651.1,413.7 649.0,414.7 646.8,415.7 644.5,416.7 642.3,417.7 640.0,418.7 637.6,419.6 635.3,420.6 632.9,421.5 630.5,422.4 628.1,423.3 625.6,424.2 623.1,425.1 620.6,426.0 618.0,426.8 615.5,427.6 612.9,428.4 610.2,429.2 607.6,430.0 604.9,430.8 602.2,431.5 599.5,432.2 599.4,433.3 602.2,432.6 604.8,431.8 607.5,431.1 610.2,430.3 612.8,429.5 615.4,428.7 618.0,427.9 620.5,427.0 623.0,426.2 625.5,425.3 628.0,424.4 630.4,423.5 632.8,422.6 635.2,421.6 637.6,420.7 639.9,419.7 642.2,418.7 644.4,417.8 646.7,416.8 648.9,415.7 651.0,414.7 653.2,413.7 655.3,412.6 657.4,411.5 659.4,410.5 661.4,409.4 663.4,408.3 665.3,407.2 667.3,406.0 669.1,404.9 671.0,403.8 672.8,402.6 674.6,401.4 676.3,400.3 678.0,399.1 679.7,397.9 681.4,396.7 683.0,395.5 684.5,394.2 686.1,393.0 687.6,391.8 689.1,390.5 690.5,389.3 691.9,388.0 693.2,386.8 694.6,385.5 695.9,384.2 697.1,382.9 698.3,381.6 699.5,380.3 700.7,379.0 701.8,377.7 702.9,376.4 703.9,375.1 704.9,373.8 705.9,372.4 706.8,371.1 707.7,369.8 708.6,368.4 709.4,367.1 710.2,365.7 711.0,364.4 711.7,363.0 712.4,361.7 713.0,360.3 713.6,359.0 714.2,357.6 714.8,356.3 715.3,354.9 715.7,353.5 716.2,352.2 716.6,350.8 717.0,349.5 717.3,348.1 717.6,346.7 717.9,345.4 718.1,344.0 718.3,342.6 718.5,341.3" fill="#722B2B" opacity="0.02"/>
<polyline points="719.3,333.8 719.1,335.2 718.9,336.5 718.7,337.9 718.4,339.2 718.1,340.6 717.8,342.0 717.4,343.3 717.0,344.7 716.5,346.0 716.1,347.4 715.6,348.7 715.0,350.1 714.4,351.4 713.8,352.8 713.2,354.1 712.5,355.5 711.8,356.8 711.0,358.1 710.2,359.5 709.4,360.8 708.5,362.1 707.6,363.5 706.7,364.8 705.7,366.1 704.7,367.4 703.7,368.7 702.6,370.0 701.5,371.3 700.3,372.6 699.1,373.9 697.9,375.2 696.6,376.5 695.4,377.7 694.0,379.0 692.7,380.3 691.3,381.5 689.8,382.8 688.3,384.0 686.8,385.2 685.3,386.5 683.7,387.7 682.1,388.9 680.5,390.1 678.8,391.3 677.1,392.4 675.3,393.6 673.5,394.8 671.7,395.9 669.9,397.0 668.0,398.2 666.1,399.3 664.1,400.4 662.1,401.5 660.1,402.6 658.1,403.7 656.0,404.7 653.9,405.8 651.7,406.8 649.5,407.8 647.3,408.8 645.1,409.8 642.8,410.8 640.5,411.8 638.2,412.7 635.8,413.7 633.4,414.6 631.0,415.5 628.6,416.4 626.1,417.3 623.6,418.2 621.1,419.0 618.5,419.9 616.0,420.7 613.4,421.5 610.7,422.3 608.1,423.1 605.4,423.8 602.7,424.5 600.0,425.3" fill="none" stroke="url(#h1)" stroke-width="1.9"/>
<polygon points="548.5,436.8 545.6,437.6 542.8,438.3 539.9,439.0 536.9,439.6 534.0,440.3 531.1,440.9 528.1,441.5 525.1,442.1 522.1,442.7 519.1,443.3 516.0,443.8 513.0,444.4 509.9,444.9 506.8,445.3 503.7,445.8 500.6,446.2 497.4,446.7 494.3,447.1 491.1,447.5 487.9,447.8 484.8,448.2 481.6,448.5 478.4,448.8 475.1,449.1 471.9,449.3 468.7,449.5 465.5,449.8 462.2,449.9 459.0,450.1 455.7,450.3 452.5,450.4 449.2,450.5 445.9,450.6 442.7,450.7 439.4,450.7 436.1,450.7 432.9,450.7 429.6,450.7 426.3,450.7 423.1,450.6 419.8,450.5 416.5,450.4 413.3,450.3 410.0,450.1 406.8,449.9 403.5,449.8 400.3,449.5 397.1,449.3 393.9,449.1 390.6,448.8 387.4,448.5 384.2,448.2 381.1,447.8 377.9,447.5 374.7,447.1 371.6,446.7 368.4,446.2 365.3,445.8 362.2,445.3 359.1,444.9 356.0,444.4 353.0,443.8 349.9,443.3 346.9,442.7 343.9,442.1 340.9,441.5 337.9,440.9 335.0,440.3 332.1,439.6 329.1,439.0 326.2,438.3 323.4,437.6 320.5,436.8 322.9,490.1 325.7,490.8 328.5,491.6 331.4,492.3 334.2,493.0 337.1,493.7 340.0,494.3 342.9,495.0 345.8,495.6 348.8,496.2 351.7,496.8 354.7,497.3 357.7,497.9 360.7,498.4 363.8,498.9 366.8,499.4 369.8,499.8 372.9,500.3 376.0,500.7 379.1,501.1 382.2,501.5 385.3,501.8 388.4,502.1 391.6,502.5 394.7,502.7 397.9,503.0 401.0,503.3 404.2,503.5 407.4,503.7 410.6,503.9 413.7,504.0 416.9,504.1 420.1,504.3 423.3,504.3 426.5,504.4 429.7,504.5 432.9,504.5 436.1,504.5 439.3,504.5 442.5,504.4 445.7,504.3 448.9,504.3 452.1,504.1 455.3,504.0 458.4,503.9 461.6,503.7 464.8,503.5 468.0,503.3 471.1,503.0 474.3,502.7 477.4,502.5 480.6,502.1 483.7,501.8 486.8,501.5 489.9,501.1 493.0,500.7 496.1,500.3 499.2,499.8 502.2,499.4 505.2,498.9 508.3,498.4 511.3,497.9 514.3,497.3 517.3,496.8 520.2,496.2 523.2,495.6 526.1,495.0 529.0,494.3 531.9,493.7 534.8,493.0 537.6,492.3 540.5,491.6 543.3,490.8 546.1,490.1" fill="url(#g2wall)" stroke="#435921" stroke-width="0.6" stroke-linejoin="round"/>
<polygon points="434.5,315.7 548.5,436.8 545.6,437.6 542.8,438.3 539.9,439.0 536.9,439.6 534.0,440.3 531.1,440.9 528.1,441.5 525.1,442.1 522.1,442.7 519.1,443.3 516.0,443.8 513.0,444.4 509.9,444.9 506.8,445.3 503.7,445.8 500.6,446.2 497.4,446.7 494.3,447.1 491.1,447.5 487.9,447.8 484.8,448.2 481.6,448.5 478.4,448.8 475.1,449.1 471.9,449.3 468.7,449.5 465.5,449.8 462.2,449.9 459.0,450.1 455.7,450.3 452.5,450.4 449.2,450.5 445.9,450.6 442.7,450.7 439.4,450.7 436.1,450.7 432.9,450.7 429.6,450.7 426.3,450.7 423.1,450.6 419.8,450.5 416.5,450.4 413.3,450.3 410.0,450.1 406.8,449.9 403.5,449.8 400.3,449.5 397.1,449.3 393.9,449.1 390.6,448.8 387.4,448.5 384.2,448.2 381.1,447.8 377.9,447.5 374.7,447.1 371.6,446.7 368.4,446.2 365.3,445.8 362.2,445.3 359.1,444.9 356.0,444.4 353.0,443.8 349.9,443.3 346.9,442.7 343.9,442.1 340.9,441.5 337.9,440.9 335.0,440.3 332.1,439.6 329.1,439.0 326.2,438.3 323.4,437.6 320.5,436.8" fill="url(#t2)" stroke="#5E7531" stroke-width="0.6" stroke-linejoin="round"/>
<polygon points="548.5,436.8 545.6,437.6 542.8,438.3 539.9,439.0 536.9,439.6 534.0,440.3 531.1,440.9 528.1,441.5 525.1,442.1 522.1,442.7 519.1,443.3 516.0,443.8 513.0,444.4 509.9,444.9 506.8,445.3 503.7,445.8 500.6,446.2 497.4,446.7 494.3,447.1 491.1,447.5 487.9,447.8 484.8,448.2 481.6,448.5 478.4,448.8 475.1,449.1 471.9,449.3 468.7,449.5 465.5,449.8 462.2,449.9 459.0,450.1 455.7,450.3 452.5,450.4 449.2,450.5 445.9,450.6 442.7,450.7 439.4,450.7 436.1,450.7 432.9,450.7 429.6,450.7 426.3,450.7 423.1,450.6 419.8,450.5 416.5,450.4 413.3,450.3 410.0,450.1 406.8,449.9 403.5,449.8 400.3,449.5 397.1,449.3 393.9,449.1 390.6,448.8 387.4,448.5 384.2,448.2 381.1,447.8 377.9,447.5 374.7,447.1 371.6,446.7 368.4,446.2 365.3,445.8 362.2,445.3 359.1,444.9 356.0,444.4 353.0,443.8 349.9,443.3 346.9,442.7 343.9,442.1 340.9,441.5 337.9,440.9 335.0,440.3 332.1,439.6 329.1,439.0 326.2,438.3 323.4,437.6 320.5,436.8 320.6,437.8 323.4,438.5 326.3,439.2 329.2,439.9 332.1,440.6 335.0,441.2 338.0,441.9 340.9,442.5 343.9,443.1 346.9,443.7 350.0,444.2 353.0,444.8 356.1,445.3 359.2,445.8 362.2,446.3 365.4,446.7 368.5,447.2 371.6,447.6 374.8,448.0 377.9,448.4 381.1,448.7 384.3,449.1 387.5,449.4 390.7,449.7 393.9,450.0 397.1,450.2 400.3,450.5 403.6,450.7 406.8,450.9 410.0,451.1 413.3,451.2 416.5,451.3 419.8,451.4 423.1,451.5 426.3,451.6 429.6,451.6 432.9,451.7 436.1,451.7 439.4,451.6 442.7,451.6 445.9,451.5 449.2,451.4 452.5,451.3 455.7,451.2 459.0,451.1 462.2,450.9 465.4,450.7 468.7,450.5 471.9,450.2 475.1,450.0 478.3,449.7 481.5,449.4 484.7,449.1 487.9,448.7 491.1,448.4 494.2,448.0 497.4,447.6 500.5,447.2 503.6,446.7 506.8,446.3 509.8,445.8 512.9,445.3 516.0,444.8 519.0,444.2 522.1,443.7 525.1,443.1 528.1,442.5 531.0,441.9 534.0,441.2 536.9,440.6 539.8,439.9 542.7,439.2 545.6,438.5 548.4,437.8" fill="#5E7531" opacity="0.80"/>
<polygon points="548.4,437.8 545.6,438.5 542.7,439.2 539.8,439.9 536.9,440.6 534.0,441.2 531.0,441.9 528.1,442.5 525.1,443.1 522.1,443.7 519.0,444.2 516.0,444.8 512.9,445.3 509.8,445.8 506.8,446.3 503.6,446.7 500.5,447.2 497.4,447.6 494.2,448.0 491.1,448.4 487.9,448.7 484.7,449.1 481.5,449.4 478.3,449.7 475.1,450.0 471.9,450.2 468.7,450.5 465.4,450.7 462.2,450.9 459.0,451.1 455.7,451.2 452.5,451.3 449.2,451.4 445.9,451.5 442.7,451.6 439.4,451.6 436.1,451.7 432.9,451.7 429.6,451.6 426.3,451.6 423.1,451.5 419.8,451.4 416.5,451.3 413.3,451.2 410.0,451.1 406.8,450.9 403.6,450.7 400.3,450.5 397.1,450.2 393.9,450.0 390.7,449.7 387.5,449.4 384.3,449.1 381.1,448.7 377.9,448.4 374.8,448.0 371.6,447.6 368.5,447.2 365.4,446.7 362.2,446.3 359.2,445.8 356.1,445.3 353.0,444.8 350.0,444.2 346.9,443.7 343.9,443.1 340.9,442.5 338.0,441.9 335.0,441.2 332.1,440.6 329.2,439.9 326.3,439.2 323.4,438.5 320.6,437.8 320.6,438.7 323.5,439.4 326.3,440.1 329.2,440.8 332.1,441.5 335.1,442.1 338.0,442.8 341.0,443.4 344.0,444.0 347.0,444.6 350.0,445.1 353.0,445.7 356.1,446.2 359.2,446.7 362.3,447.2 365.4,447.7 368.5,448.1 371.6,448.5 374.8,448.9 377.9,449.3 381.1,449.7 384.3,450.0 387.5,450.3 390.7,450.6 393.9,450.9 397.1,451.2 400.3,451.4 403.6,451.6 406.8,451.8 410.0,452.0 413.3,452.1 416.6,452.3 419.8,452.4 423.1,452.5 426.3,452.5 429.6,452.6 432.9,452.6 436.1,452.6 439.4,452.6 442.7,452.5 445.9,452.5 449.2,452.4 452.4,452.3 455.7,452.1 459.0,452.0 462.2,451.8 465.4,451.6 468.7,451.4 471.9,451.2 475.1,450.9 478.3,450.6 481.5,450.3 484.7,450.0 487.9,449.7 491.1,449.3 494.2,448.9 497.4,448.5 500.5,448.1 503.6,447.7 506.7,447.2 509.8,446.7 512.9,446.2 516.0,445.7 519.0,445.1 522.0,444.6 525.0,444.0 528.0,443.4 531.0,442.8 533.9,442.1 536.9,441.5 539.8,440.8 542.7,440.1 545.5,439.4 548.4,438.7" fill="#5E7531" opacity="0.69"/>
<polygon points="548.4,438.7 545.5,439.4 542.7,440.1 539.8,440.8 536.9,441.5 533.9,442.1 531.0,442.8 528.0,443.4 525.0,444.0 522.0,444.6 519.0,445.1 516.0,445.7 512.9,446.2 509.8,446.7 506.7,447.2 503.6,447.7 500.5,448.1 497.4,448.5 494.2,448.9 491.1,449.3 487.9,449.7 484.7,450.0 481.5,450.3 478.3,450.6 475.1,450.9 471.9,451.2 468.7,451.4 465.4,451.6 462.2,451.8 459.0,452.0 455.7,452.1 452.4,452.3 449.2,452.4 445.9,452.5 442.7,452.5 439.4,452.6 436.1,452.6 432.9,452.6 429.6,452.6 426.3,452.5 423.1,452.5 419.8,452.4 416.6,452.3 413.3,452.1 410.0,452.0 406.8,451.8 403.6,451.6 400.3,451.4 397.1,451.2 393.9,450.9 390.7,450.6 387.5,450.3 384.3,450.0 381.1,449.7 377.9,449.3 374.8,448.9 371.6,448.5 368.5,448.1 365.4,447.7 362.3,447.2 359.2,446.7 356.1,446.2 353.0,445.7 350.0,445.1 347.0,444.6 344.0,444.0 341.0,443.4 338.0,442.8 335.1,442.1 332.1,441.5 329.2,440.8 326.3,440.1 323.5,439.4 320.6,438.7 320.7,439.6 323.5,440.3 326.4,441.0 329.3,441.7 332.2,442.4 335.1,443.1 338.0,443.7 341.0,444.3 344.0,444.9 347.0,445.5 350.0,446.1 353.1,446.6 356.1,447.1 359.2,447.6 362.3,448.1 365.4,448.6 368.5,449.0 371.7,449.5 374.8,449.9 378.0,450.2 381.1,450.6 384.3,450.9 387.5,451.3 390.7,451.6 393.9,451.8 397.1,452.1 400.3,452.3 403.6,452.6 406.8,452.7 410.1,452.9 413.3,453.1 416.6,453.2 419.8,453.3 423.1,453.4 426.3,453.5 429.6,453.5 432.9,453.5 436.1,453.5 439.4,453.5 442.7,453.5 445.9,453.4 449.2,453.3 452.4,453.2 455.7,453.1 458.9,452.9 462.2,452.7 465.4,452.6 468.7,452.3 471.9,452.1 475.1,451.8 478.3,451.6 481.5,451.3 484.7,450.9 487.9,450.6 491.0,450.2 494.2,449.9 497.3,449.5 500.5,449.0 503.6,448.6 506.7,448.1 509.8,447.6 512.9,447.1 515.9,446.6 519.0,446.1 522.0,445.5 525.0,444.9 528.0,444.3 531.0,443.7 533.9,443.1 536.8,442.4 539.7,441.7 542.6,441.0 545.5,440.3 548.3,439.6" fill="#5E7531" opacity="0.58"/>
<polygon points="548.3,439.6 545.5,440.3 542.6,441.0 539.7,441.7 536.8,442.4 533.9,443.1 531.0,443.7 528.0,444.3 525.0,444.9 522.0,445.5 519.0,446.1 515.9,446.6 512.9,447.1 509.8,447.6 506.7,448.1 503.6,448.6 500.5,449.0 497.3,449.5 494.2,449.9 491.0,450.2 487.9,450.6 484.7,450.9 481.5,451.3 478.3,451.6 475.1,451.8 471.9,452.1 468.7,452.3 465.4,452.6 462.2,452.7 458.9,452.9 455.7,453.1 452.4,453.2 449.2,453.3 445.9,453.4 442.7,453.5 439.4,453.5 436.1,453.5 432.9,453.5 429.6,453.5 426.3,453.5 423.1,453.4 419.8,453.3 416.6,453.2 413.3,453.1 410.1,452.9 406.8,452.7 403.6,452.6 400.3,452.3 397.1,452.1 393.9,451.8 390.7,451.6 387.5,451.3 384.3,450.9 381.1,450.6 378.0,450.2 374.8,449.9 371.7,449.5 368.5,449.0 365.4,448.6 362.3,448.1 359.2,447.6 356.1,447.1 353.1,446.6 350.0,446.1 347.0,445.5 344.0,444.9 341.0,444.3 338.0,443.7 335.1,443.1 332.2,442.4 329.3,441.7 326.4,441.0 323.5,440.3 320.7,439.6 320.7,440.5 323.5,441.2 326.4,442.0 329.3,442.7 332.2,443.3 335.1,444.0 338.1,444.6 341.0,445.3 344.0,445.9 347.0,446.4 350.1,447.0 353.1,447.5 356.2,448.1 359.2,448.6 362.3,449.1 365.4,449.5 368.5,450.0 371.7,450.4 374.8,450.8 378.0,451.2 381.1,451.5 384.3,451.9 387.5,452.2 390.7,452.5 393.9,452.8 397.1,453.0 400.4,453.3 403.6,453.5 406.8,453.7 410.1,453.8 413.3,454.0 416.6,454.1 419.8,454.2 423.1,454.3 426.3,454.4 429.6,454.4 432.9,454.5 436.1,454.5 439.4,454.4 442.7,454.4 445.9,454.3 449.2,454.2 452.4,454.1 455.7,454.0 458.9,453.8 462.2,453.7 465.4,453.5 468.6,453.3 471.9,453.0 475.1,452.8 478.3,452.5 481.5,452.2 484.7,451.9 487.9,451.5 491.0,451.2 494.2,450.8 497.3,450.4 500.5,450.0 503.6,449.5 506.7,449.1 509.8,448.6 512.8,448.1 515.9,447.5 518.9,447.0 522.0,446.4 525.0,445.9 528.0,445.3 530.9,444.6 533.9,444.0 536.8,443.3 539.7,442.7 542.6,442.0 545.5,441.2 548.3,440.5" fill="#5E7531" opacity="0.49"/>
<polygon points="548.3,440.5 545.5,441.2 542.6,442.0 539.7,442.7 536.8,443.3 533.9,444.0 530.9,444.6 528.0,445.3 525.0,445.9 522.0,446.4 518.9,447.0 515.9,447.5 512.8,448.1 509.8,448.6 506.7,449.1 503.6,449.5 500.5,450.0 497.3,450.4 494.2,450.8 491.0,451.2 487.9,451.5 484.7,451.9 481.5,452.2 478.3,452.5 475.1,452.8 471.9,453.0 468.6,453.3 465.4,453.5 462.2,453.7 458.9,453.8 455.7,454.0 452.4,454.1 449.2,454.2 445.9,454.3 442.7,454.4 439.4,454.4 436.1,454.5 432.9,454.5 429.6,454.4 426.3,454.4 423.1,454.3 419.8,454.2 416.6,454.1 413.3,454.0 410.1,453.8 406.8,453.7 403.6,453.5 400.4,453.3 397.1,453.0 393.9,452.8 390.7,452.5 387.5,452.2 384.3,451.9 381.1,451.5 378.0,451.2 374.8,450.8 371.7,450.4 368.5,450.0 365.4,449.5 362.3,449.1 359.2,448.6 356.2,448.1 353.1,447.5 350.1,447.0 347.0,446.4 344.0,445.9 341.0,445.3 338.1,444.6 335.1,444.0 332.2,443.3 329.3,442.7 326.4,442.0 323.5,441.2 320.7,440.5 320.7,441.4 323.6,442.2 326.4,442.9 329.3,443.6 332.2,444.3 335.2,444.9 338.1,445.6 341.1,446.2 344.1,446.8 347.1,447.4 350.1,447.9 353.1,448.5 356.2,449.0 359.3,449.5 362.4,450.0 365.5,450.4 368.6,450.9 371.7,451.3 374.8,451.7 378.0,452.1 381.2,452.5 384.3,452.8 387.5,453.1 390.7,453.4 393.9,453.7 397.1,454.0 400.4,454.2 403.6,454.4 406.8,454.6 410.1,454.8 413.3,454.9 416.6,455.1 419.8,455.2 423.1,455.3 426.3,455.3 429.6,455.4 432.9,455.4 436.1,455.4 439.4,455.4 442.7,455.3 445.9,455.3 449.2,455.2 452.4,455.1 455.7,454.9 458.9,454.8 462.2,454.6 465.4,454.4 468.6,454.2 471.9,454.0 475.1,453.7 478.3,453.4 481.5,453.1 484.7,452.8 487.8,452.5 491.0,452.1 494.2,451.7 497.3,451.3 500.4,450.9 503.5,450.4 506.6,450.0 509.7,449.5 512.8,449.0 515.9,448.5 518.9,447.9 521.9,447.4 524.9,446.8 527.9,446.2 530.9,445.6 533.8,444.9 536.8,444.3 539.7,443.6 542.6,442.9 545.4,442.2 548.3,441.4" fill="#5E7531" opacity="0.39"/>
<polygon points="548.3,441.4 545.4,442.2 542.6,442.9 539.7,443.6 536.8,444.3 533.8,444.9 530.9,445.6 527.9,446.2 524.9,446.8 521.9,447.4 518.9,447.9 515.9,448.5 512.8,449.0 509.7,449.5 506.6,450.0 503.5,450.4 500.4,450.9 497.3,451.3 494.2,451.7 491.0,452.1 487.8,452.5 484.7,452.8 481.5,453.1 478.3,453.4 475.1,453.7 471.9,454.0 468.6,454.2 465.4,454.4 462.2,454.6 458.9,454.8 455.7,454.9 452.4,455.1 449.2,455.2 445.9,455.3 442.7,455.3 439.4,455.4 436.1,455.4 432.9,455.4 429.6,455.4 426.3,455.3 423.1,455.3 419.8,455.2 416.6,455.1 413.3,454.9 410.1,454.8 406.8,454.6 403.6,454.4 400.4,454.2 397.1,454.0 393.9,453.7 390.7,453.4 387.5,453.1 384.3,452.8 381.2,452.5 378.0,452.1 374.8,451.7 371.7,451.3 368.6,450.9 365.5,450.4 362.4,450.0 359.3,449.5 356.2,449.0 353.1,448.5 350.1,447.9 347.1,447.4 344.1,446.8 341.1,446.2 338.1,445.6 335.2,444.9 332.2,444.3 329.3,443.6 326.4,442.9 323.6,442.2 320.7,441.4 320.8,442.4 323.6,443.1 326.5,443.8 329.4,444.5 332.3,445.2 335.2,445.8 338.1,446.5 341.1,447.1 344.1,447.7 347.1,448.3 350.1,448.9 353.2,449.4 356.2,449.9 359.3,450.4 362.4,450.9 365.5,451.4 368.6,451.8 371.7,452.2 374.9,452.6 378.0,453.0 381.2,453.4 384.4,453.7 387.5,454.1 390.7,454.4 393.9,454.6 397.2,454.9 400.4,455.1 403.6,455.3 406.8,455.5 410.1,455.7 413.3,455.9 416.6,456.0 419.8,456.1 423.1,456.2 426.3,456.2 429.6,456.3 432.9,456.3 436.1,456.3 439.4,456.3 442.7,456.2 445.9,456.2 449.2,456.1 452.4,456.0 455.7,455.9 458.9,455.7 462.2,455.5 465.4,455.3 468.6,455.1 471.8,454.9 475.1,454.6 478.3,454.4 481.5,454.1 484.6,453.7 487.8,453.4 491.0,453.0 494.1,452.6 497.3,452.2 500.4,451.8 503.5,451.4 506.6,450.9 509.7,450.4 512.8,449.9 515.8,449.4 518.9,448.9 521.9,448.3 524.9,447.7 527.9,447.1 530.9,446.5 533.8,445.8 536.7,445.2 539.6,444.5 542.5,443.8 545.4,443.1 548.2,442.4" fill="#5E7531" opacity="0.30"/>
<polygon points="548.2,442.4 545.4,443.1 542.5,443.8 539.6,444.5 536.7,445.2 533.8,445.8 530.9,446.5 527.9,447.1 524.9,447.7 521.9,448.3 518.9,448.9 515.8,449.4 512.8,449.9 509.7,450.4 506.6,450.9 503.5,451.4 500.4,451.8 497.3,452.2 494.1,452.6 491.0,453.0 487.8,453.4 484.6,453.7 481.5,454.1 478.3,454.4 475.1,454.6 471.8,454.9 468.6,455.1 465.4,455.3 462.2,455.5 458.9,455.7 455.7,455.9 452.4,456.0 449.2,456.1 445.9,456.2 442.7,456.2 439.4,456.3 436.1,456.3 432.9,456.3 429.6,456.3 426.3,456.2 423.1,456.2 419.8,456.1 416.6,456.0 413.3,455.9 410.1,455.7 406.8,455.5 403.6,455.3 400.4,455.1 397.2,454.9 393.9,454.6 390.7,454.4 387.5,454.1 384.4,453.7 381.2,453.4 378.0,453.0 374.9,452.6 371.7,452.2 368.6,451.8 365.5,451.4 362.4,450.9 359.3,450.4 356.2,449.9 353.2,449.4 350.1,448.9 347.1,448.3 344.1,447.7 341.1,447.1 338.1,446.5 335.2,445.8 332.3,445.2 329.4,444.5 326.5,443.8 323.6,443.1 320.8,442.4 320.8,443.3 323.7,444.0 326.5,444.7 329.4,445.4 332.3,446.1 335.2,446.8 338.2,447.4 341.2,448.0 344.1,448.6 347.1,449.2 350.2,449.8 353.2,450.3 356.2,450.8 359.3,451.4 362.4,451.8 365.5,452.3 368.6,452.7 371.7,453.2 374.9,453.6 378.0,454.0 381.2,454.3 384.4,454.7 387.6,455.0 390.8,455.3 394.0,455.6 397.2,455.8 400.4,456.1 403.6,456.3 406.9,456.5 410.1,456.6 413.3,456.8 416.6,456.9 419.8,457.0 423.1,457.1 426.4,457.2 429.6,457.2 432.9,457.2 436.1,457.2 439.4,457.2 442.6,457.2 445.9,457.1 449.2,457.0 452.4,456.9 455.7,456.8 458.9,456.6 462.1,456.5 465.4,456.3 468.6,456.1 471.8,455.8 475.0,455.6 478.2,455.3 481.4,455.0 484.6,454.7 487.8,454.3 491.0,454.0 494.1,453.6 497.3,453.2 500.4,452.7 503.5,452.3 506.6,451.8 509.7,451.4 512.8,450.8 515.8,450.3 518.8,449.8 521.9,449.2 524.9,448.6 527.8,448.0 530.8,447.4 533.8,446.8 536.7,446.1 539.6,445.4 542.5,444.7 545.3,444.0 548.2,443.3" fill="#5E7531" opacity="0.22"/>
<polygon points="548.2,443.3 545.3,444.0 542.5,444.7 539.6,445.4 536.7,446.1 533.8,446.8 530.8,447.4 527.8,448.0 524.9,448.6 521.9,449.2 518.8,449.8 515.8,450.3 512.8,450.8 509.7,451.4 506.6,451.8 503.5,452.3 500.4,452.7 497.3,453.2 494.1,453.6 491.0,454.0 487.8,454.3 484.6,454.7 481.4,455.0 478.2,455.3 475.0,455.6 471.8,455.8 468.6,456.1 465.4,456.3 462.1,456.5 458.9,456.6 455.7,456.8 452.4,456.9 449.2,457.0 445.9,457.1 442.6,457.2 439.4,457.2 436.1,457.2 432.9,457.2 429.6,457.2 426.4,457.2 423.1,457.1 419.8,457.0 416.6,456.9 413.3,456.8 410.1,456.6 406.9,456.5 403.6,456.3 400.4,456.1 397.2,455.8 394.0,455.6 390.8,455.3 387.6,455.0 384.4,454.7 381.2,454.3 378.0,454.0 374.9,453.6 371.7,453.2 368.6,452.7 365.5,452.3 362.4,451.8 359.3,451.4 356.2,450.8 353.2,450.3 350.2,449.8 347.1,449.2 344.1,448.6 341.2,448.0 338.2,447.4 335.2,446.8 332.3,446.1 329.4,445.4 326.5,444.7 323.7,444.0 320.8,443.3 320.9,444.2 323.7,444.9 326.6,445.6 329.4,446.3 332.3,447.0 335.3,447.7 338.2,448.3 341.2,448.9 344.2,449.6 347.2,450.1 350.2,450.7 353.2,451.2 356.3,451.8 359.3,452.3 362.4,452.8 365.5,453.2 368.6,453.7 371.8,454.1 374.9,454.5 378.1,454.9 381.2,455.2 384.4,455.6 387.6,455.9 390.8,456.2 394.0,456.5 397.2,456.7 400.4,457.0 403.6,457.2 406.9,457.4 410.1,457.6 413.3,457.7 416.6,457.8 419.8,458.0 423.1,458.0 426.4,458.1 429.6,458.1 432.9,458.2 436.1,458.2 439.4,458.1 442.6,458.1 445.9,458.0 449.2,458.0 452.4,457.8 455.7,457.7 458.9,457.6 462.1,457.4 465.4,457.2 468.6,457.0 471.8,456.7 475.0,456.5 478.2,456.2 481.4,455.9 484.6,455.6 487.8,455.2 490.9,454.9 494.1,454.5 497.2,454.1 500.4,453.7 503.5,453.2 506.6,452.8 509.7,452.3 512.7,451.8 515.8,451.2 518.8,450.7 521.8,450.1 524.8,449.6 527.8,448.9 530.8,448.3 533.7,447.7 536.7,447.0 539.6,446.3 542.4,445.6 545.3,444.9 548.1,444.2" fill="#5E7531" opacity="0.14"/>
<polygon points="548.1,444.2 545.3,444.9 542.4,445.6 539.6,446.3 536.7,447.0 533.7,447.7 530.8,448.3 527.8,448.9 524.8,449.6 521.8,450.1 518.8,450.7 515.8,451.2 512.7,451.8 509.7,452.3 506.6,452.8 503.5,453.2 500.4,453.7 497.2,454.1 494.1,454.5 490.9,454.9 487.8,455.2 484.6,455.6 481.4,455.9 478.2,456.2 475.0,456.5 471.8,456.7 468.6,457.0 465.4,457.2 462.1,457.4 458.9,457.6 455.7,457.7 452.4,457.8 449.2,458.0 445.9,458.0 442.6,458.1 439.4,458.1 436.1,458.2 432.9,458.2 429.6,458.1 426.4,458.1 423.1,458.0 419.8,458.0 416.6,457.8 413.3,457.7 410.1,457.6 406.9,457.4 403.6,457.2 400.4,457.0 397.2,456.7 394.0,456.5 390.8,456.2 387.6,455.9 384.4,455.6 381.2,455.2 378.1,454.9 374.9,454.5 371.8,454.1 368.6,453.7 365.5,453.2 362.4,452.8 359.3,452.3 356.3,451.8 353.2,451.2 350.2,450.7 347.2,450.1 344.2,449.6 341.2,448.9 338.2,448.3 335.3,447.7 332.3,447.0 329.4,446.3 326.6,445.6 323.7,444.9 320.9,444.2 320.9,445.1 323.7,445.9 326.6,446.6 329.5,447.3 332.4,447.9 335.3,448.6 338.3,449.2 341.2,449.9 344.2,450.5 347.2,451.1 350.2,451.6 353.3,452.2 356.3,452.7 359.4,453.2 362.5,453.7 365.6,454.2 368.7,454.6 371.8,455.0 374.9,455.4 378.1,455.8 381.2,456.2 384.4,456.5 387.6,456.8 390.8,457.1 394.0,457.4 397.2,457.7 400.4,457.9 403.6,458.1 406.9,458.3 410.1,458.5 413.4,458.6 416.6,458.8 419.8,458.9 423.1,459.0 426.4,459.0 429.6,459.1 432.9,459.1 436.1,459.1 439.4,459.1 442.6,459.0 445.9,459.0 449.2,458.9 452.4,458.8 455.6,458.6 458.9,458.5 462.1,458.3 465.4,458.1 468.6,457.9 471.8,457.7 475.0,457.4 478.2,457.1 481.4,456.8 484.6,456.5 487.8,456.2 490.9,455.8 494.1,455.4 497.2,455.0 500.3,454.6 503.4,454.2 506.5,453.7 509.6,453.2 512.7,452.7 515.7,452.2 518.8,451.6 521.8,451.1 524.8,450.5 527.8,449.9 530.7,449.2 533.7,448.6 536.6,447.9 539.5,447.3 542.4,446.6 545.3,445.9 548.1,445.1" fill="#5E7531" opacity="0.07"/>
<polygon points="548.1,445.1 545.3,445.9 542.4,446.6 539.5,447.3 536.6,447.9 533.7,448.6 530.7,449.2 527.8,449.9 524.8,450.5 521.8,451.1 518.8,451.6 515.7,452.2 512.7,452.7 509.6,453.2 506.5,453.7 503.4,454.2 500.3,454.6 497.2,455.0 494.1,455.4 490.9,455.8 487.8,456.2 484.6,456.5 481.4,456.8 478.2,457.1 475.0,457.4 471.8,457.7 468.6,457.9 465.4,458.1 462.1,458.3 458.9,458.5 455.6,458.6 452.4,458.8 449.2,458.9 445.9,459.0 442.6,459.0 439.4,459.1 436.1,459.1 432.9,459.1 429.6,459.1 426.4,459.0 423.1,459.0 419.8,458.9 416.6,458.8 413.4,458.6 410.1,458.5 406.9,458.3 403.6,458.1 400.4,457.9 397.2,457.7 394.0,457.4 390.8,457.1 387.6,456.8 384.4,456.5 381.2,456.2 378.1,455.8 374.9,455.4 371.8,455.0 368.7,454.6 365.6,454.2 362.5,453.7 359.4,453.2 356.3,452.7 353.3,452.2 350.2,451.6 347.2,451.1 344.2,450.5 341.2,449.9 338.3,449.2 335.3,448.6 332.4,447.9 329.5,447.3 326.6,446.6 323.7,445.9 320.9,445.1 320.9,446.0 323.8,446.8 326.6,447.5 329.5,448.2 332.4,448.9 335.3,449.5 338.3,450.2 341.3,450.8 344.2,451.4 347.2,452.0 350.3,452.5 353.3,453.1 356.3,453.6 359.4,454.1 362.5,454.6 365.6,455.1 368.7,455.5 371.8,455.9 375.0,456.4 378.1,456.7 381.3,457.1 384.4,457.4 387.6,457.8 390.8,458.1 394.0,458.3 397.2,458.6 400.4,458.8 403.7,459.1 406.9,459.2 410.1,459.4 413.4,459.6 416.6,459.7 419.9,459.8 423.1,459.9 426.4,460.0 429.6,460.0 432.9,460.0 436.1,460.0 439.4,460.0 442.6,460.0 445.9,459.9 449.1,459.8 452.4,459.7 455.6,459.6 458.9,459.4 462.1,459.2 465.3,459.1 468.6,458.8 471.8,458.6 475.0,458.3 478.2,458.1 481.4,457.8 484.6,457.4 487.7,457.1 490.9,456.7 494.0,456.4 497.2,455.9 500.3,455.5 503.4,455.1 506.5,454.6 509.6,454.1 512.7,453.6 515.7,453.1 518.7,452.5 521.8,452.0 524.8,451.4 527.7,450.8 530.7,450.2 533.7,449.5 536.6,448.9 539.5,448.2 542.4,447.5 545.2,446.8 548.1,446.0" fill="#5E7531" opacity="0.02"/>
<polyline points="548.4,439.5 545.5,440.3 542.6,441.0 539.7,441.7 536.8,442.4 533.9,443.0 531.0,443.7 528.0,444.3 525.0,444.9 522.0,445.5 519.0,446.0 515.9,446.6 512.9,447.1 509.8,447.6 506.7,448.1 503.6,448.5 500.5,449.0 497.3,449.4 494.2,449.8 491.0,450.2 487.9,450.6 484.7,450.9 481.5,451.2 478.3,451.5 475.1,451.8 471.9,452.0 468.7,452.3 465.4,452.5 462.2,452.7 458.9,452.9 455.7,453.0 452.4,453.1 449.2,453.3 445.9,453.3 442.7,453.4 439.4,453.4 436.1,453.5 432.9,453.5 429.6,453.4 426.3,453.4 423.1,453.3 419.8,453.3 416.6,453.1 413.3,453.0 410.1,452.9 406.8,452.7 403.6,452.5 400.3,452.3 397.1,452.0 393.9,451.8 390.7,451.5 387.5,451.2 384.3,450.9 381.1,450.6 378.0,450.2 374.8,449.8 371.7,449.4 368.5,449.0 365.4,448.5 362.3,448.1 359.2,447.6 356.1,447.1 353.1,446.6 350.0,446.0 347.0,445.5 344.0,444.9 341.0,444.3 338.0,443.7 335.1,443.0 332.2,442.4 329.3,441.7 326.4,441.0 323.5,440.3 320.6,439.5" fill="none" stroke="url(#h2)" stroke-width="1.9"/>
<g><polyline points="136.0,147.0 144.0,147.0 225.6,214.0" fill="none" stroke="#363636" stroke-width="1.1"/>
<polyline points="154.0,203.5 162.0,203.5 196.0,232.0" fill="none" stroke="#363636" stroke-width="1.1"/>
<polyline points="238.0,194.4 244.4,194.4 257.0,201.0" fill="none" stroke="#363636" stroke-width="1.1"/>
<polyline points="241.6,146.2 248.0,146.2 294.0,190.4" fill="none" stroke="#363636" stroke-width="1.1"/>
<polyline points="257.0,114.2 263.0,114.2 322.4,183.6" fill="none" stroke="#363636" stroke-width="1.1"/>
<polyline points="294.0,101.4 301.0,101.4 341.6,180.0" fill="none" stroke="#363636" stroke-width="1.1"/>
<polyline points="361.6,122.0 361.6,178.0" fill="none" stroke="#363636" stroke-width="1.1"/>
<polyline points="409.5,96.3 403.0,96.3 382.0,175.0" fill="none" stroke="#363636" stroke-width="1.1"/>
<polyline points="485.0,114.3 477.5,114.3 402.5,173.8" fill="none" stroke="#363636" stroke-width="1.1"/>
<polyline points="478.0,152.5 471.0,152.5 422.5,173.0" fill="none" stroke="#363636" stroke-width="1.1"/></g>
<g><text x="213.5" y="32.2" font-size="18.8" font-weight="bold" fill="#000" stroke="#000" stroke-width="0.23" textLength="372.8" lengthAdjust="spacingAndGlyphs">Самые влиятельные люди мира 2016</text>
<text x="282.5" y="60.0" font-size="18.8" font-weight="bold" fill="#000" stroke="#000" stroke-width="0.23" textLength="234.5" lengthAdjust="spacingAndGlyphs">по видам деятельности</text>
<text x="241.0" y="86.6" font-size="10.9" font-weight="normal" fill="#2a2a2a" textLength="86.0" lengthAdjust="spacingAndGlyphs">Игорный бизнес</text>
<text x="277.6" y="102.0" font-size="10.9" font-weight="normal" fill="#2a2a2a" textLength="14.4" lengthAdjust="spacingAndGlyphs">1%</text>
<text x="187.0" y="115.0" font-size="10.9" font-weight="normal" fill="#2a2a2a" textLength="68.0" lengthAdjust="spacingAndGlyphs">Филантропы</text>
<text x="214.0" y="130.6" font-size="10.9" font-weight="normal" fill="#2a2a2a" textLength="15.0" lengthAdjust="spacingAndGlyphs">1%</text>
<text x="184.0" y="146.6" font-size="10.9" font-weight="normal" fill="#2a2a2a" textLength="55.0" lengthAdjust="spacingAndGlyphs">Террорист</text>
<text x="204.0" y="162.0" font-size="10.9" font-weight="normal" fill="#2a2a2a" textLength="15.0" lengthAdjust="spacingAndGlyphs">3%</text>
<text x="211.0" y="179.0" font-size="10.9" font-weight="normal" fill="#2a2a2a" textLength="35.0" lengthAdjust="spacingAndGlyphs">Медиа</text>
<text x="221.0" y="194.4" font-size="10.9" font-weight="normal" fill="#2a2a2a" textLength="15.0" lengthAdjust="spacingAndGlyphs">3%</text>
<text x="90.0" y="147.0" font-size="10.9" font-weight="normal" fill="#2a2a2a" textLength="44.0" lengthAdjust="spacingAndGlyphs">Ресурсы</text>
<text x="104.5" y="162.0" font-size="10.9" font-weight="normal" fill="#2a2a2a" textLength="15.0" lengthAdjust="spacingAndGlyphs">3%</text>
<text x="330.0" y="103.6" font-size="10.9" font-weight="normal" fill="#2a2a2a" textLength="55.0" lengthAdjust="spacingAndGlyphs">Министры</text>
<text x="351.0" y="118.6" font-size="10.9" font-weight="normal" fill="#2a2a2a" textLength="15.0" lengthAdjust="spacingAndGlyphs">1%</text>
<text x="410.5" y="97.0" font-size="10.9" font-weight="normal" fill="#2a2a2a" textLength="107.5" lengthAdjust="spacingAndGlyphs">Розничная торговля</text>
<text x="458.0" y="112.0" font-size="10.9" font-weight="normal" fill="#2a2a2a" textLength="14.5" lengthAdjust="spacingAndGlyphs">1%</text>
<text x="486.3" y="115.0" font-size="10.9" font-weight="normal" fill="#2a2a2a" textLength="43.7" lengthAdjust="spacingAndGlyphs">Сенатор</text>
<text x="501.0" y="130.0" font-size="10.9" font-weight="normal" fill="#2a2a2a" textLength="14.5" lengthAdjust="spacingAndGlyphs">1%</text>
<text x="480.0" y="153.0" font-size="10.9" font-weight="normal" fill="#2a2a2a" textLength="97.5" lengthAdjust="spacingAndGlyphs">Судебная система</text>
<text x="522.5" y="168.0" font-size="10.9" font-weight="normal" fill="#2a2a2a" textLength="14.5" lengthAdjust="spacingAndGlyphs">1%</text>
<text x="5.0" y="203.6" font-size="12.3" font-weight="bold" fill="#000" stroke="#000" stroke-width="0.15" textLength="145.4" lengthAdjust="spacingAndGlyphs">Второе лицо государства</text>
<text x="69.0" y="219.6" font-size="12.3" font-weight="bold" fill="#000" stroke="#000" stroke-width="0.15" textLength="16.6" lengthAdjust="spacingAndGlyphs">3%</text>
<text x="36.6" y="252.2" font-size="12.8" font-weight="bold" fill="#000" stroke="#000" stroke-width="0.15" textLength="108.4" lengthAdjust="spacingAndGlyphs">Международные</text>
<text x="53.0" y="269.0" font-size="12.8" font-weight="bold" fill="#000" stroke="#000" stroke-width="0.15" textLength="76.6" lengthAdjust="spacingAndGlyphs">организации</text>
<text x="82.5" y="286.0" font-size="12.8" font-weight="bold" fill="#000" stroke="#000" stroke-width="0.15" textLength="16.0" lengthAdjust="spacingAndGlyphs">7%</text>
<text x="38.4" y="371.6" font-size="12.8" font-weight="bold" fill="#000" stroke="#000" stroke-width="0.15" textLength="94.0" lengthAdjust="spacingAndGlyphs">Производство</text>
<text x="76.6" y="390.5" font-size="12.8" font-weight="bold" fill="#000" stroke="#000" stroke-width="0.15" textLength="17.8" lengthAdjust="spacingAndGlyphs">8%</text>
<text x="96.4" y="457.4" font-size="14.8" font-weight="bold" fill="#000" stroke="#000" stroke-width="0.18" textLength="99.6" lengthAdjust="spacingAndGlyphs">Финансовые</text>
<text x="100.0" y="478.0" font-size="14.8" font-weight="bold" fill="#000" stroke="#000" stroke-width="0.18" textLength="94.4" lengthAdjust="spacingAndGlyphs">корпорации</text>
<text x="131.0" y="500.0" font-size="14.8" font-weight="bold" fill="#000" stroke="#000" stroke-width="0.18" textLength="31.0" lengthAdjust="spacingAndGlyphs">11%</text>
<text x="427.2" y="522.0" font-size="17.2" font-weight="bold" fill="#000" stroke="#000" stroke-width="0.21" textLength="14.0" lengthAdjust="spacingAndGlyphs">IT</text>
<text x="417.5" y="546.8" font-size="17.2" font-weight="bold" fill="#000" stroke="#000" stroke-width="0.21" textLength="33.0" lengthAdjust="spacingAndGlyphs">14%</text>
<text x="694.4" y="440.0" font-size="17.4" font-weight="bold" fill="#000" stroke="#000" stroke-width="0.21" textLength="82.8" lengthAdjust="spacingAndGlyphs">Холдинги</text>
<text x="719.6" y="464.4" font-size="17.4" font-weight="bold" fill="#000" stroke="#000" stroke-width="0.21" textLength="34.9" lengthAdjust="spacingAndGlyphs">15%</text>
<text x="683.1" y="168.7" font-size="21.0" font-weight="bold" fill="#000" stroke="#000" stroke-width="0.25" textLength="57.4" lengthAdjust="spacingAndGlyphs">Глава</text>
<text x="647.0" y="200.0" font-size="21.0" font-weight="bold" fill="#000" stroke="#000" stroke-width="0.25" textLength="129.6" lengthAdjust="spacingAndGlyphs">государства</text>
<text x="689.5" y="232.4" font-size="21.4" font-weight="bold" fill="#000" stroke="#000" stroke-width="0.26" textLength="44.6" lengthAdjust="spacingAndGlyphs">27%</text></g>
<path d="M1.6,0V555H800" fill="none" stroke="#868686" stroke-width="1.4"/><rect x="0" y="554.3" width="800" height="1.7" fill="#868686"/>
<path d="M0,0.7H799.2V556" fill="none" stroke="#868686" stroke-width="1.5"/>
</svg></body></html>
